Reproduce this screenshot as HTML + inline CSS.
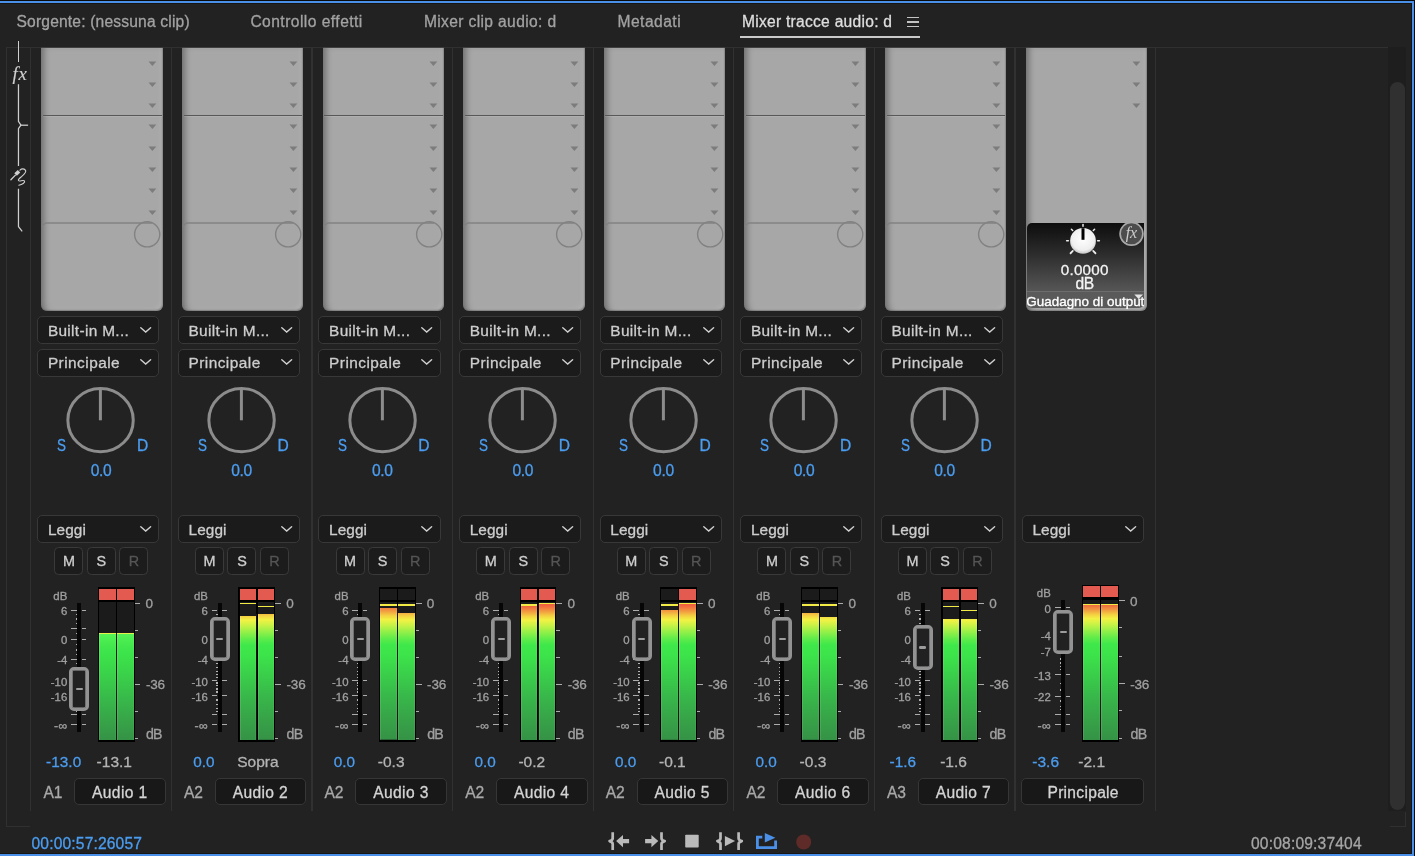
<!DOCTYPE html>
<html lang="it"><head><meta charset="utf-8"><title>Mixer tracce audio</title>
<style>
html,body{margin:0;padding:0;}
body{width:1415px;height:856px;overflow:hidden;background:#222222;position:relative;font-family:"Liberation Sans", sans-serif;}
div,span,svg{position:absolute;display:block;box-sizing:border-box;}
span{white-space:pre;}

.g{background:linear-gradient(to bottom,#f05a3c 0%,#f0663e 3.2%,#f2a240 7.5%,#f4d242 10.5%,#f2f244 13.3%,#c6f246 17.5%,#98f048 21.5%,#5eec4a 27%,#3ee84a 31.5%,#3ce24a 40%,#3ad04a 52%,#38b84a 68%,#37a448 84%,#359246 100%) no-repeat;box-shadow:inset 1px 0 0 rgba(255,255,255,.10),inset -1px 0 0 rgba(255,255,255,.05);}
.gl{background:linear-gradient(to bottom,#58f458 0%,#4cee50 6%,#40e64c 14%,#3ce24a 22%,#3ad04a 40%,#38b84a 62%,#37a448 82%,#359246 100%) no-repeat;box-shadow:inset 1px 0 0 rgba(255,255,255,.10),inset -1px 0 0 rgba(255,255,255,.05);}
.pn{background:#a7a7a7;border-radius:0 0 6px 6px;box-shadow:inset 6px 0 6px -3px rgba(0,0,0,.34),inset -4px -4px 4px -2px rgba(255,255,255,.13),inset -1px -1px 1.5px 0 rgba(0,0,0,.28),inset 0 1px 1px 0 rgba(255,255,255,.08);}
.dd{width:122.2px;height:28px;background:#1b1b1b;border:1px solid #383838;border-radius:5px;}
.cr{background:#e35a50;}
.cd{background:#1b1b1b;}
.tk{height:1px;background:#acacac;}
.dt{width:1.6px;height:1.5px;background:#b4b4b4;}
span{-webkit-text-stroke:0.3px currentColor;}
</style></head>
<body>
<div style="left:0.00px;top:0.00px;width:1415.00px;height:1.00px;background:#0b0b0b"></div>
<div style="left:0.00px;top:1.00px;width:1414.00px;height:2.00px;background:#4a90e8"></div>
<div style="left:0.00px;top:3.00px;width:1412.00px;height:1.00px;background:#151515"></div>
<div style="left:1411.00px;top:3.00px;width:1.00px;height:851.00px;background:#151515"></div>
<div style="left:1412.00px;top:1.00px;width:2.00px;height:855.00px;background:#4a90e8"></div>
<div style="left:1414.00px;top:0.00px;width:1.00px;height:856.00px;background:#0b0b0b"></div>
<div style="left:0.00px;top:853.00px;width:1412.00px;height:1.00px;background:#171717"></div>
<div style="left:0.00px;top:854.00px;width:1414.00px;height:2.00px;background:#4a90e8"></div>
<span style="left:16.50px;top:14.02px;font-size:15.6px;line-height:15.6px;color:#a2a2a2;letter-spacing:0.178px;">Sorgente: (nessuna clip)</span>
<span style="left:250.40px;top:14.02px;font-size:15.6px;line-height:15.6px;color:#a2a2a2;letter-spacing:0.458px;">Controllo effetti</span>
<span style="left:423.90px;top:14.02px;font-size:15.6px;line-height:15.6px;color:#a2a2a2;letter-spacing:0.365px;">Mixer clip audio: d</span>
<span style="left:617.50px;top:14.02px;font-size:15.6px;line-height:15.6px;color:#a2a2a2;letter-spacing:0.473px;">Metadati</span>
<span style="left:741.90px;top:14.02px;font-size:15.6px;line-height:15.6px;color:#dedede;letter-spacing:0.269px;">Mixer tracce audio: d</span>
<div style="left:740.00px;top:36.00px;width:180.00px;height:2.00px;background:#c9c9c9"></div>
<div style="left:907.30px;top:16.65px;width:12.20px;height:1.50px;background:#c4c4c4"></div>
<div style="left:907.30px;top:21.25px;width:12.20px;height:1.50px;background:#c4c4c4"></div>
<div style="left:907.30px;top:25.85px;width:12.20px;height:1.50px;background:#c4c4c4"></div>
<div style="left:6.00px;top:47.00px;width:1382.00px;height:1.00px;background:#303030"></div>
<div style="left:6.00px;top:47.00px;width:1.00px;height:780.00px;background:#303030"></div>
<div style="left:6.00px;top:826.00px;width:24.00px;height:1.00px;background:#303030"></div>
<div style="left:1388.00px;top:47.00px;width:18.00px;height:764.00px;background:#1e1e1e"></div>
<div style="left:1390.20px;top:82.30px;width:15.00px;height:727.50px;background:#303030;border-radius:7.5px"></div>
<div style="left:1405.00px;top:812.00px;width:1.00px;height:15.00px;background:#303030"></div>
<div style="left:1390.00px;top:826.00px;width:16.00px;height:1.00px;background:#303030"></div>
<div style="left:17.85px;top:40.90px;width:1.25px;height:21.20px;background:#cfcfcf"></div>
<span style="left:12.40px;top:65.02px;font-size:18.8px;line-height:18.8px;color:#cfcfcf;font-family:'Liberation Serif',serif;font-style:italic;-webkit-text-stroke:0.15px;letter-spacing:1px;">fx</span>
<svg style="left:8.00px;top:84.00px;" width="24" height="150" viewBox="0 0 24 150"><g stroke="#cfcfcf" stroke-width="1.25" fill="none" stroke-linejoin="round"><path d="M10.47 0.2 V37.4 L12.9 41.2 L10.47 44.6 V82.1"/><path d="M12.6 41.2 H20.1"/><path d="M10.47 104.8 V142.6 L14.2 147.4"/></g><g stroke="#cfcfcf" fill="none" stroke-linecap="round"><path d="M2.9 95.7 L7.4 91.1" stroke-width="1.3"/><path d="M7.6 90.6 L11 87.2" stroke-width="3.6" stroke-linecap="butt"/><path d="M12 86.2 C13.6 84.4 16.6 84.5 17.6 86.6 C18.5 88.6 16 90.6 13.6 92.6 C11.6 94.2 9.6 95.6 10.6 96.7 C11.7 97.8 15.4 95.3 16.5 97.0 C17.5 98.6 14 100.4 10.8 101.2" stroke-width="1.15"/></g></svg>
<div style="left:30.15px;top:48.00px;width:1.20px;height:763.00px;background:#313131"></div>
<div style="left:170.75px;top:48.00px;width:1.20px;height:763.00px;background:#313131"></div>
<div style="left:311.35px;top:48.00px;width:1.20px;height:763.00px;background:#313131"></div>
<div style="left:451.95px;top:48.00px;width:1.20px;height:763.00px;background:#313131"></div>
<div style="left:592.55px;top:48.00px;width:1.20px;height:763.00px;background:#313131"></div>
<div style="left:733.15px;top:48.00px;width:1.20px;height:763.00px;background:#313131"></div>
<div style="left:873.75px;top:48.00px;width:1.20px;height:763.00px;background:#313131"></div>
<div style="left:1014.35px;top:48.00px;width:1.20px;height:763.00px;background:#313131"></div>
<div style="left:1154.95px;top:48.00px;width:1.20px;height:763.00px;background:#313131"></div>
<div style="left:41.30px;top:47.00px;width:121.50px;height:1.00px;background:#404040"></div>
<div class="pn" style="left:41.30px;top:48px;width:121.50px;height:263px"></div>
<svg style="left:148.00px;top:60.50px;" width="9" height="6" viewBox="0 0 9 6"><path d="M0.5 0.6 H8.3 L4.4 5.0 Z" fill="#7c7c7c"/></svg>
<svg style="left:148.00px;top:81.80px;" width="9" height="6" viewBox="0 0 9 6"><path d="M0.5 0.6 H8.3 L4.4 5.0 Z" fill="#7c7c7c"/></svg>
<svg style="left:148.00px;top:103.10px;" width="9" height="6" viewBox="0 0 9 6"><path d="M0.5 0.6 H8.3 L4.4 5.0 Z" fill="#7c7c7c"/></svg>
<svg style="left:148.00px;top:124.40px;" width="9" height="6" viewBox="0 0 9 6"><path d="M0.5 0.6 H8.3 L4.4 5.0 Z" fill="#7c7c7c"/></svg>
<svg style="left:148.00px;top:145.70px;" width="9" height="6" viewBox="0 0 9 6"><path d="M0.5 0.6 H8.3 L4.4 5.0 Z" fill="#7c7c7c"/></svg>
<svg style="left:148.00px;top:167.00px;" width="9" height="6" viewBox="0 0 9 6"><path d="M0.5 0.6 H8.3 L4.4 5.0 Z" fill="#7c7c7c"/></svg>
<svg style="left:148.00px;top:188.30px;" width="9" height="6" viewBox="0 0 9 6"><path d="M0.5 0.6 H8.3 L4.4 5.0 Z" fill="#7c7c7c"/></svg>
<svg style="left:148.00px;top:209.70px;" width="9" height="6" viewBox="0 0 9 6"><path d="M0.5 0.6 H8.3 L4.4 5.0 Z" fill="#7c7c7c"/></svg>
<div style="left:42.90px;top:115.00px;width:118.90px;height:1.30px;background:#585858;box-shadow:0 1px 0 rgba(255,255,255,.10)"></div>
<svg style="left:41.30px;top:219.00px;" width="121.5" height="32" viewBox="0 0 121.5 32"><path d="M0.4 7.4 L4.6 4.0 H111" stroke="#828282" stroke-width="1.3" fill="none"/><circle cx="106.2" cy="15.3" r="12.6" stroke="#828282" stroke-width="1.4" fill="none"/></svg>
<div class="dd" style="left:37.20px;top:316.00px"></div>
<span style="left:47.90px;top:323.02px;font-size:15.4px;line-height:15.4px;color:#cdcdcd;letter-spacing:0.325px;">Built-in M...</span>
<svg style="left:140.10px;top:326.60px;" width="12" height="7" viewBox="0 0 12 7"><path d="M0.8 0.8 L5.7 5.0 L10.6 0.8" stroke="#d0d0d0" stroke-width="1.4" fill="none" stroke-linecap="round" stroke-linejoin="miter"/></svg>
<div class="dd" style="left:37.20px;top:348.80px"></div>
<span style="left:47.90px;top:355.02px;font-size:15.4px;line-height:15.4px;color:#cdcdcd;letter-spacing:0.461px;">Principale</span>
<svg style="left:140.10px;top:359.40px;" width="12" height="7" viewBox="0 0 12 7"><path d="M0.8 0.8 L5.7 5.0 L10.6 0.8" stroke="#d0d0d0" stroke-width="1.4" fill="none" stroke-linecap="round" stroke-linejoin="miter"/></svg>
<svg style="left:64.40px;top:384.00px;" width="74" height="74" viewBox="0 0 74 74"><ellipse cx="36.55" cy="36.2" rx="32.7" ry="31.6" stroke="#8c8c8c" stroke-width="3" fill="none"/><path d="M36.4 4.5 V36.3" stroke="#8c8c8c" stroke-width="3"/></svg>
<span style="left:57.00px;top:438.02px;font-size:15.6px;line-height:15.6px;color:#4b9df0;transform:scaleX(0.86);transform-origin:0 50%;">S</span>
<span style="left:137.00px;top:438.02px;font-size:15.6px;line-height:15.6px;color:#4b9df0;">D</span>
<span style="left:90.72px;top:463.02px;font-size:15.6px;line-height:15.6px;color:#4b9df0;letter-spacing:-0.362px;">0.0</span>
<div class="dd" style="left:37.20px;top:515.00px"></div>
<span style="left:47.90px;top:522.02px;font-size:15.4px;line-height:15.4px;color:#cdcdcd;letter-spacing:0.066px;">Leggi</span>
<svg style="left:140.10px;top:525.60px;" width="12" height="7" viewBox="0 0 12 7"><path d="M0.8 0.8 L5.7 5.0 L10.6 0.8" stroke="#d0d0d0" stroke-width="1.4" fill="none" stroke-linecap="round" stroke-linejoin="miter"/></svg>
<div style="left:54.30px;top:547.10px;width:29.10px;height:27.50px;background:#1c1c1c;border:1.2px solid #3a3a3a;border-radius:4.5px"></div>
<span style="left:62.90px;top:554.02px;font-size:14.4px;line-height:14.4px;color:#cfcfcf;">M</span>
<div style="left:86.80px;top:547.10px;width:29.10px;height:27.50px;background:#1c1c1c;border:1.2px solid #3a3a3a;border-radius:4.5px"></div>
<span style="left:96.60px;top:554.02px;font-size:14.4px;line-height:14.4px;color:#cfcfcf;">S</span>
<div style="left:119.30px;top:547.10px;width:29.10px;height:27.50px;background:#1c1c1c;border:1.2px solid #3a3a3a;border-radius:4.5px"></div>
<span style="left:128.70px;top:554.02px;font-size:14.4px;line-height:14.4px;color:#555555;">R</span>
<div style="left:77.20px;top:602.80px;width:4.00px;height:129.10px;background:#060606"></div>
<div class="tk" style="left:70.90px;top:610px;width:5.9px"></div>
<div class="tk" style="left:81.70px;top:610px;width:4.6px"></div>
<div class="tk" style="left:70.90px;top:628px;width:5.9px"></div>
<div class="tk" style="left:81.70px;top:628px;width:4.6px"></div>
<div class="tk" style="left:70.90px;top:639px;width:5.9px"></div>
<div class="tk" style="left:81.70px;top:639px;width:4.6px"></div>
<div class="tk" style="left:70.90px;top:659px;width:5.9px"></div>
<div class="tk" style="left:81.70px;top:659px;width:4.6px"></div>
<div class="tk" style="left:70.90px;top:680px;width:5.9px"></div>
<div class="tk" style="left:81.70px;top:680px;width:4.6px"></div>
<div class="tk" style="left:70.90px;top:695px;width:5.9px"></div>
<div class="tk" style="left:81.70px;top:695px;width:4.6px"></div>
<div class="tk" style="left:70.90px;top:714px;width:5.9px"></div>
<div class="tk" style="left:81.70px;top:714px;width:4.6px"></div>
<div class="tk" style="left:70.90px;top:724px;width:5.9px"></div>
<div class="tk" style="left:81.70px;top:724px;width:4.6px"></div>
<div class="dt" style="left:75.70px;top:613.75px"></div>
<div class="dt" style="left:75.70px;top:618.45px"></div>
<div class="dt" style="left:75.70px;top:622.75px"></div>
<div class="dt" style="left:75.70px;top:632.75px"></div>
<div class="dt" style="left:75.70px;top:643.95px"></div>
<div class="dt" style="left:75.70px;top:649.45px"></div>
<div class="dt" style="left:75.70px;top:653.95px"></div>
<div class="dt" style="left:75.70px;top:662.55px"></div>
<div class="dt" style="left:75.70px;top:666.75px"></div>
<div class="dt" style="left:75.70px;top:670.95px"></div>
<div class="dt" style="left:75.70px;top:673.75px"></div>
<div class="dt" style="left:75.70px;top:676.55px"></div>
<div class="dt" style="left:75.70px;top:682.15px"></div>
<div class="dt" style="left:75.70px;top:684.95px"></div>
<div class="dt" style="left:75.70px;top:688.25px"></div>
<div class="dt" style="left:75.70px;top:691.45px"></div>
<div class="dt" style="left:75.70px;top:699.45px"></div>
<div class="dt" style="left:75.70px;top:703.95px"></div>
<div class="dt" style="left:75.70px;top:707.85px"></div>
<div class="dt" style="left:75.70px;top:710.65px"></div>
<span style="left:53.36px;top:591.02px;font-size:11.4px;line-height:11.4px;color:#a0a0a0;">dB</span>
<span style="left:60.96px;top:606.02px;font-size:11.4px;line-height:11.4px;color:#a0a0a0;">6</span>
<span style="left:60.96px;top:635.02px;font-size:11.4px;line-height:11.4px;color:#a0a0a0;">0</span>
<span style="left:57.16px;top:655.02px;font-size:11.4px;line-height:11.4px;color:#a0a0a0;">-4</span>
<span style="left:50.83px;top:677.02px;font-size:11.4px;line-height:11.4px;color:#a0a0a0;">-10</span>
<span style="left:50.83px;top:692.02px;font-size:11.4px;line-height:11.4px;color:#a0a0a0;">-16</span>
<span style="left:53.92px;top:720.02px;font-size:12.4px;line-height:12.4px;color:#a0a0a0;letter-spacing:0.416px;">-∞</span>
<div style="left:69.10px;top:666.70px;width:20.00px;height:44.40px;background:#212121;border:3px solid #939393;border-radius:5px;box-shadow:inset 0 0 0 0.6px #a8a8a8"></div>
<div style="left:75.80px;top:687.60px;width:7.00px;height:2.60px;background:#9c9c9c;border-radius:1.3px"></div>
<div style="left:97.80px;top:587.20px;width:36.80px;height:154.40px;background:#000"></div>
<div class="cr" style="left:99.00px;top:588.80px;width:16.60px;height:11.40px"></div>
<div class="cr" style="left:117.00px;top:588.80px;width:16.60px;height:11.40px"></div>
<div style="left:115.70px;top:632.90px;width:1.20px;height:107.10px;background:#151515"></div>
<div class="cd" style="left:99.00px;top:601.50px;width:16.60px;height:138.50px"></div>
<div class="gl" style="left:99.00px;top:632.90px;width:16.60px;height:107.10px"></div>
<div style="left:99.00px;top:632.70px;width:16.60px;height:1.10px;background:#e6f24a"></div>
<div class="cd" style="left:117.00px;top:601.50px;width:16.60px;height:138.50px"></div>
<div class="gl" style="left:117.00px;top:632.90px;width:16.60px;height:107.10px"></div>
<div style="left:117.00px;top:632.70px;width:16.60px;height:1.10px;background:#e6f24a"></div>
<div class="tk" style="left:134.60px;top:603px;width:5.8px"></div>
<div class="tk" style="left:134.60px;top:684px;width:5.8px"></div>
<div class="tk" style="left:134.60px;top:630px;width:3.2px"></div>
<div class="tk" style="left:134.60px;top:657px;width:3.2px"></div>
<div class="tk" style="left:134.60px;top:711px;width:3.2px"></div>
<div class="tk" style="left:134.60px;top:738px;width:3.2px"></div>
<span style="left:145.60px;top:597.02px;font-size:13.5px;line-height:13.5px;color:#a0a0a0;">0</span>
<span style="left:145.90px;top:678.02px;font-size:13.5px;line-height:13.5px;color:#a0a0a0;letter-spacing:-0.172px;">-36</span>
<span style="left:146.00px;top:727.02px;font-size:14.2px;line-height:14.2px;color:#a0a0a0;letter-spacing:-0.780px;">dB</span>
<span style="left:46.00px;top:754.02px;font-size:15.3px;line-height:15.3px;color:#4b9df0;letter-spacing:0.085px;">-13.0</span>
<span style="left:96.60px;top:754.02px;font-size:15.5px;line-height:15.5px;color:#b4b4b4;">-13.1</span>
<span style="left:43.40px;top:785.02px;font-size:15.6px;line-height:15.6px;color:#a8a8a8;letter-spacing:-0.139px;">A1</span>
<div style="left:74.10px;top:778.40px;width:91.70px;height:26.60px;background:#181818;border:1px solid #363636;border-radius:5px"></div>
<span style="left:92.08px;top:785.02px;font-size:15.6px;line-height:15.6px;color:#d4d4d4;letter-spacing:0.358px;">Audio 1</span>
<div style="left:181.90px;top:47.00px;width:121.50px;height:1.00px;background:#404040"></div>
<div class="pn" style="left:181.90px;top:48px;width:121.50px;height:263px"></div>
<svg style="left:288.60px;top:60.50px;" width="9" height="6" viewBox="0 0 9 6"><path d="M0.5 0.6 H8.3 L4.4 5.0 Z" fill="#7c7c7c"/></svg>
<svg style="left:288.60px;top:81.80px;" width="9" height="6" viewBox="0 0 9 6"><path d="M0.5 0.6 H8.3 L4.4 5.0 Z" fill="#7c7c7c"/></svg>
<svg style="left:288.60px;top:103.10px;" width="9" height="6" viewBox="0 0 9 6"><path d="M0.5 0.6 H8.3 L4.4 5.0 Z" fill="#7c7c7c"/></svg>
<svg style="left:288.60px;top:124.40px;" width="9" height="6" viewBox="0 0 9 6"><path d="M0.5 0.6 H8.3 L4.4 5.0 Z" fill="#7c7c7c"/></svg>
<svg style="left:288.60px;top:145.70px;" width="9" height="6" viewBox="0 0 9 6"><path d="M0.5 0.6 H8.3 L4.4 5.0 Z" fill="#7c7c7c"/></svg>
<svg style="left:288.60px;top:167.00px;" width="9" height="6" viewBox="0 0 9 6"><path d="M0.5 0.6 H8.3 L4.4 5.0 Z" fill="#7c7c7c"/></svg>
<svg style="left:288.60px;top:188.30px;" width="9" height="6" viewBox="0 0 9 6"><path d="M0.5 0.6 H8.3 L4.4 5.0 Z" fill="#7c7c7c"/></svg>
<svg style="left:288.60px;top:209.70px;" width="9" height="6" viewBox="0 0 9 6"><path d="M0.5 0.6 H8.3 L4.4 5.0 Z" fill="#7c7c7c"/></svg>
<div style="left:183.50px;top:115.00px;width:118.90px;height:1.30px;background:#585858;box-shadow:0 1px 0 rgba(255,255,255,.10)"></div>
<svg style="left:181.90px;top:219.00px;" width="121.5" height="32" viewBox="0 0 121.5 32"><path d="M0.4 7.4 L4.6 4.0 H111" stroke="#828282" stroke-width="1.3" fill="none"/><circle cx="106.2" cy="15.3" r="12.6" stroke="#828282" stroke-width="1.4" fill="none"/></svg>
<div class="dd" style="left:177.80px;top:316.00px"></div>
<span style="left:188.50px;top:323.02px;font-size:15.4px;line-height:15.4px;color:#cdcdcd;letter-spacing:0.325px;">Built-in M...</span>
<svg style="left:280.70px;top:326.60px;" width="12" height="7" viewBox="0 0 12 7"><path d="M0.8 0.8 L5.7 5.0 L10.6 0.8" stroke="#d0d0d0" stroke-width="1.4" fill="none" stroke-linecap="round" stroke-linejoin="miter"/></svg>
<div class="dd" style="left:177.80px;top:348.80px"></div>
<span style="left:188.50px;top:355.02px;font-size:15.4px;line-height:15.4px;color:#cdcdcd;letter-spacing:0.461px;">Principale</span>
<svg style="left:280.70px;top:359.40px;" width="12" height="7" viewBox="0 0 12 7"><path d="M0.8 0.8 L5.7 5.0 L10.6 0.8" stroke="#d0d0d0" stroke-width="1.4" fill="none" stroke-linecap="round" stroke-linejoin="miter"/></svg>
<svg style="left:205.00px;top:384.00px;" width="74" height="74" viewBox="0 0 74 74"><ellipse cx="36.55" cy="36.2" rx="32.7" ry="31.6" stroke="#8c8c8c" stroke-width="3" fill="none"/><path d="M36.4 4.5 V36.3" stroke="#8c8c8c" stroke-width="3"/></svg>
<span style="left:197.60px;top:438.02px;font-size:15.6px;line-height:15.6px;color:#4b9df0;transform:scaleX(0.86);transform-origin:0 50%;">S</span>
<span style="left:277.60px;top:438.02px;font-size:15.6px;line-height:15.6px;color:#4b9df0;">D</span>
<span style="left:231.32px;top:463.02px;font-size:15.6px;line-height:15.6px;color:#4b9df0;letter-spacing:-0.362px;">0.0</span>
<div class="dd" style="left:177.80px;top:515.00px"></div>
<span style="left:188.50px;top:522.02px;font-size:15.4px;line-height:15.4px;color:#cdcdcd;letter-spacing:0.066px;">Leggi</span>
<svg style="left:280.70px;top:525.60px;" width="12" height="7" viewBox="0 0 12 7"><path d="M0.8 0.8 L5.7 5.0 L10.6 0.8" stroke="#d0d0d0" stroke-width="1.4" fill="none" stroke-linecap="round" stroke-linejoin="miter"/></svg>
<div style="left:194.90px;top:547.10px;width:29.10px;height:27.50px;background:#1c1c1c;border:1.2px solid #3a3a3a;border-radius:4.5px"></div>
<span style="left:203.50px;top:554.02px;font-size:14.4px;line-height:14.4px;color:#cfcfcf;">M</span>
<div style="left:227.40px;top:547.10px;width:29.10px;height:27.50px;background:#1c1c1c;border:1.2px solid #3a3a3a;border-radius:4.5px"></div>
<span style="left:237.20px;top:554.02px;font-size:14.4px;line-height:14.4px;color:#cfcfcf;">S</span>
<div style="left:259.90px;top:547.10px;width:29.10px;height:27.50px;background:#1c1c1c;border:1.2px solid #3a3a3a;border-radius:4.5px"></div>
<span style="left:269.30px;top:554.02px;font-size:14.4px;line-height:14.4px;color:#555555;">R</span>
<div style="left:217.80px;top:602.80px;width:4.00px;height:129.10px;background:#060606"></div>
<div class="tk" style="left:211.50px;top:610px;width:5.9px"></div>
<div class="tk" style="left:222.30px;top:610px;width:4.6px"></div>
<div class="tk" style="left:211.50px;top:628px;width:5.9px"></div>
<div class="tk" style="left:222.30px;top:628px;width:4.6px"></div>
<div class="tk" style="left:211.50px;top:639px;width:5.9px"></div>
<div class="tk" style="left:222.30px;top:639px;width:4.6px"></div>
<div class="tk" style="left:211.50px;top:659px;width:5.9px"></div>
<div class="tk" style="left:222.30px;top:659px;width:4.6px"></div>
<div class="tk" style="left:211.50px;top:680px;width:5.9px"></div>
<div class="tk" style="left:222.30px;top:680px;width:4.6px"></div>
<div class="tk" style="left:211.50px;top:695px;width:5.9px"></div>
<div class="tk" style="left:222.30px;top:695px;width:4.6px"></div>
<div class="tk" style="left:211.50px;top:714px;width:5.9px"></div>
<div class="tk" style="left:222.30px;top:714px;width:4.6px"></div>
<div class="tk" style="left:211.50px;top:724px;width:5.9px"></div>
<div class="tk" style="left:222.30px;top:724px;width:4.6px"></div>
<div class="dt" style="left:216.30px;top:613.75px"></div>
<div class="dt" style="left:216.30px;top:618.45px"></div>
<div class="dt" style="left:216.30px;top:622.75px"></div>
<div class="dt" style="left:216.30px;top:632.75px"></div>
<div class="dt" style="left:216.30px;top:643.95px"></div>
<div class="dt" style="left:216.30px;top:649.45px"></div>
<div class="dt" style="left:216.30px;top:653.95px"></div>
<div class="dt" style="left:216.30px;top:662.55px"></div>
<div class="dt" style="left:216.30px;top:666.75px"></div>
<div class="dt" style="left:216.30px;top:670.95px"></div>
<div class="dt" style="left:216.30px;top:673.75px"></div>
<div class="dt" style="left:216.30px;top:676.55px"></div>
<div class="dt" style="left:216.30px;top:682.15px"></div>
<div class="dt" style="left:216.30px;top:684.95px"></div>
<div class="dt" style="left:216.30px;top:688.25px"></div>
<div class="dt" style="left:216.30px;top:691.45px"></div>
<div class="dt" style="left:216.30px;top:699.45px"></div>
<div class="dt" style="left:216.30px;top:703.95px"></div>
<div class="dt" style="left:216.30px;top:707.85px"></div>
<div class="dt" style="left:216.30px;top:710.65px"></div>
<span style="left:193.96px;top:591.02px;font-size:11.4px;line-height:11.4px;color:#a0a0a0;">dB</span>
<span style="left:201.56px;top:606.02px;font-size:11.4px;line-height:11.4px;color:#a0a0a0;">6</span>
<span style="left:201.56px;top:635.02px;font-size:11.4px;line-height:11.4px;color:#a0a0a0;">0</span>
<span style="left:197.76px;top:655.02px;font-size:11.4px;line-height:11.4px;color:#a0a0a0;">-4</span>
<span style="left:191.43px;top:677.02px;font-size:11.4px;line-height:11.4px;color:#a0a0a0;">-10</span>
<span style="left:191.43px;top:692.02px;font-size:11.4px;line-height:11.4px;color:#a0a0a0;">-16</span>
<span style="left:194.52px;top:720.02px;font-size:12.4px;line-height:12.4px;color:#a0a0a0;letter-spacing:0.416px;">-∞</span>
<div style="left:209.70px;top:616.70px;width:20.00px;height:44.40px;background:#212121;border:3px solid #939393;border-radius:5px;box-shadow:inset 0 0 0 0.6px #a8a8a8"></div>
<div style="left:216.40px;top:637.60px;width:7.00px;height:2.60px;background:#9c9c9c;border-radius:1.3px"></div>
<div style="left:238.40px;top:587.20px;width:36.80px;height:154.40px;background:#000"></div>
<div class="cr" style="left:239.60px;top:588.80px;width:16.60px;height:11.40px"></div>
<div class="cr" style="left:257.60px;top:588.80px;width:16.60px;height:11.40px"></div>
<div style="left:256.30px;top:614.20px;width:1.20px;height:125.80px;background:#151515"></div>
<div class="cd" style="left:239.60px;top:601.50px;width:16.60px;height:138.50px"></div>
<div class="g" style="left:239.60px;top:615.70px;width:16.60px;height:124.30px;background-size:100% 138.50px;background-position:0 -14.20px"></div>
<div style="left:239.60px;top:603.05px;width:16.60px;height:1.30px;background:#f2ea45"></div>
<div class="cd" style="left:257.60px;top:601.50px;width:16.60px;height:138.50px"></div>
<div class="g" style="left:257.60px;top:614.20px;width:16.60px;height:125.80px;background-size:100% 138.50px;background-position:0 -12.70px"></div>
<div style="left:257.60px;top:605.65px;width:16.60px;height:1.30px;background:#f2ea45"></div>
<div class="tk" style="left:275.20px;top:603px;width:5.8px"></div>
<div class="tk" style="left:275.20px;top:684px;width:5.8px"></div>
<div class="tk" style="left:275.20px;top:630px;width:3.2px"></div>
<div class="tk" style="left:275.20px;top:657px;width:3.2px"></div>
<div class="tk" style="left:275.20px;top:711px;width:3.2px"></div>
<div class="tk" style="left:275.20px;top:738px;width:3.2px"></div>
<span style="left:286.20px;top:597.02px;font-size:13.5px;line-height:13.5px;color:#a0a0a0;">0</span>
<span style="left:286.50px;top:678.02px;font-size:13.5px;line-height:13.5px;color:#a0a0a0;letter-spacing:-0.172px;">-36</span>
<span style="left:286.60px;top:727.02px;font-size:14.2px;line-height:14.2px;color:#a0a0a0;letter-spacing:-0.780px;">dB</span>
<span style="left:193.20px;top:754.02px;font-size:15.3px;line-height:15.3px;color:#4b9df0;">0.0</span>
<span style="left:237.20px;top:754.02px;font-size:15.5px;line-height:15.5px;color:#b4b4b4;">Sopra</span>
<span style="left:184.00px;top:785.02px;font-size:15.6px;line-height:15.6px;color:#a8a8a8;letter-spacing:-0.139px;">A2</span>
<div style="left:214.70px;top:778.40px;width:91.70px;height:26.60px;background:#181818;border:1px solid #363636;border-radius:5px"></div>
<span style="left:232.68px;top:785.02px;font-size:15.6px;line-height:15.6px;color:#d4d4d4;letter-spacing:0.358px;">Audio 2</span>
<div style="left:322.50px;top:47.00px;width:121.50px;height:1.00px;background:#404040"></div>
<div class="pn" style="left:322.50px;top:48px;width:121.50px;height:263px"></div>
<svg style="left:429.20px;top:60.50px;" width="9" height="6" viewBox="0 0 9 6"><path d="M0.5 0.6 H8.3 L4.4 5.0 Z" fill="#7c7c7c"/></svg>
<svg style="left:429.20px;top:81.80px;" width="9" height="6" viewBox="0 0 9 6"><path d="M0.5 0.6 H8.3 L4.4 5.0 Z" fill="#7c7c7c"/></svg>
<svg style="left:429.20px;top:103.10px;" width="9" height="6" viewBox="0 0 9 6"><path d="M0.5 0.6 H8.3 L4.4 5.0 Z" fill="#7c7c7c"/></svg>
<svg style="left:429.20px;top:124.40px;" width="9" height="6" viewBox="0 0 9 6"><path d="M0.5 0.6 H8.3 L4.4 5.0 Z" fill="#7c7c7c"/></svg>
<svg style="left:429.20px;top:145.70px;" width="9" height="6" viewBox="0 0 9 6"><path d="M0.5 0.6 H8.3 L4.4 5.0 Z" fill="#7c7c7c"/></svg>
<svg style="left:429.20px;top:167.00px;" width="9" height="6" viewBox="0 0 9 6"><path d="M0.5 0.6 H8.3 L4.4 5.0 Z" fill="#7c7c7c"/></svg>
<svg style="left:429.20px;top:188.30px;" width="9" height="6" viewBox="0 0 9 6"><path d="M0.5 0.6 H8.3 L4.4 5.0 Z" fill="#7c7c7c"/></svg>
<svg style="left:429.20px;top:209.70px;" width="9" height="6" viewBox="0 0 9 6"><path d="M0.5 0.6 H8.3 L4.4 5.0 Z" fill="#7c7c7c"/></svg>
<div style="left:324.10px;top:115.00px;width:118.90px;height:1.30px;background:#585858;box-shadow:0 1px 0 rgba(255,255,255,.10)"></div>
<svg style="left:322.50px;top:219.00px;" width="121.5" height="32" viewBox="0 0 121.5 32"><path d="M0.4 7.4 L4.6 4.0 H111" stroke="#828282" stroke-width="1.3" fill="none"/><circle cx="106.2" cy="15.3" r="12.6" stroke="#828282" stroke-width="1.4" fill="none"/></svg>
<div class="dd" style="left:318.40px;top:316.00px"></div>
<span style="left:329.10px;top:323.02px;font-size:15.4px;line-height:15.4px;color:#cdcdcd;letter-spacing:0.325px;">Built-in M...</span>
<svg style="left:421.30px;top:326.60px;" width="12" height="7" viewBox="0 0 12 7"><path d="M0.8 0.8 L5.7 5.0 L10.6 0.8" stroke="#d0d0d0" stroke-width="1.4" fill="none" stroke-linecap="round" stroke-linejoin="miter"/></svg>
<div class="dd" style="left:318.40px;top:348.80px"></div>
<span style="left:329.10px;top:355.02px;font-size:15.4px;line-height:15.4px;color:#cdcdcd;letter-spacing:0.461px;">Principale</span>
<svg style="left:421.30px;top:359.40px;" width="12" height="7" viewBox="0 0 12 7"><path d="M0.8 0.8 L5.7 5.0 L10.6 0.8" stroke="#d0d0d0" stroke-width="1.4" fill="none" stroke-linecap="round" stroke-linejoin="miter"/></svg>
<svg style="left:345.60px;top:384.00px;" width="74" height="74" viewBox="0 0 74 74"><ellipse cx="36.55" cy="36.2" rx="32.7" ry="31.6" stroke="#8c8c8c" stroke-width="3" fill="none"/><path d="M36.4 4.5 V36.3" stroke="#8c8c8c" stroke-width="3"/></svg>
<span style="left:338.20px;top:438.02px;font-size:15.6px;line-height:15.6px;color:#4b9df0;transform:scaleX(0.86);transform-origin:0 50%;">S</span>
<span style="left:418.20px;top:438.02px;font-size:15.6px;line-height:15.6px;color:#4b9df0;">D</span>
<span style="left:371.92px;top:463.02px;font-size:15.6px;line-height:15.6px;color:#4b9df0;letter-spacing:-0.362px;">0.0</span>
<div class="dd" style="left:318.40px;top:515.00px"></div>
<span style="left:329.10px;top:522.02px;font-size:15.4px;line-height:15.4px;color:#cdcdcd;letter-spacing:0.066px;">Leggi</span>
<svg style="left:421.30px;top:525.60px;" width="12" height="7" viewBox="0 0 12 7"><path d="M0.8 0.8 L5.7 5.0 L10.6 0.8" stroke="#d0d0d0" stroke-width="1.4" fill="none" stroke-linecap="round" stroke-linejoin="miter"/></svg>
<div style="left:335.50px;top:547.10px;width:29.10px;height:27.50px;background:#1c1c1c;border:1.2px solid #3a3a3a;border-radius:4.5px"></div>
<span style="left:344.10px;top:554.02px;font-size:14.4px;line-height:14.4px;color:#cfcfcf;">M</span>
<div style="left:368.00px;top:547.10px;width:29.10px;height:27.50px;background:#1c1c1c;border:1.2px solid #3a3a3a;border-radius:4.5px"></div>
<span style="left:377.80px;top:554.02px;font-size:14.4px;line-height:14.4px;color:#cfcfcf;">S</span>
<div style="left:400.50px;top:547.10px;width:29.10px;height:27.50px;background:#1c1c1c;border:1.2px solid #3a3a3a;border-radius:4.5px"></div>
<span style="left:409.90px;top:554.02px;font-size:14.4px;line-height:14.4px;color:#555555;">R</span>
<div style="left:358.40px;top:602.80px;width:4.00px;height:129.10px;background:#060606"></div>
<div class="tk" style="left:352.10px;top:610px;width:5.9px"></div>
<div class="tk" style="left:362.90px;top:610px;width:4.6px"></div>
<div class="tk" style="left:352.10px;top:628px;width:5.9px"></div>
<div class="tk" style="left:362.90px;top:628px;width:4.6px"></div>
<div class="tk" style="left:352.10px;top:639px;width:5.9px"></div>
<div class="tk" style="left:362.90px;top:639px;width:4.6px"></div>
<div class="tk" style="left:352.10px;top:659px;width:5.9px"></div>
<div class="tk" style="left:362.90px;top:659px;width:4.6px"></div>
<div class="tk" style="left:352.10px;top:680px;width:5.9px"></div>
<div class="tk" style="left:362.90px;top:680px;width:4.6px"></div>
<div class="tk" style="left:352.10px;top:695px;width:5.9px"></div>
<div class="tk" style="left:362.90px;top:695px;width:4.6px"></div>
<div class="tk" style="left:352.10px;top:714px;width:5.9px"></div>
<div class="tk" style="left:362.90px;top:714px;width:4.6px"></div>
<div class="tk" style="left:352.10px;top:724px;width:5.9px"></div>
<div class="tk" style="left:362.90px;top:724px;width:4.6px"></div>
<div class="dt" style="left:356.90px;top:613.75px"></div>
<div class="dt" style="left:356.90px;top:618.45px"></div>
<div class="dt" style="left:356.90px;top:622.75px"></div>
<div class="dt" style="left:356.90px;top:632.75px"></div>
<div class="dt" style="left:356.90px;top:643.95px"></div>
<div class="dt" style="left:356.90px;top:649.45px"></div>
<div class="dt" style="left:356.90px;top:653.95px"></div>
<div class="dt" style="left:356.90px;top:662.55px"></div>
<div class="dt" style="left:356.90px;top:666.75px"></div>
<div class="dt" style="left:356.90px;top:670.95px"></div>
<div class="dt" style="left:356.90px;top:673.75px"></div>
<div class="dt" style="left:356.90px;top:676.55px"></div>
<div class="dt" style="left:356.90px;top:682.15px"></div>
<div class="dt" style="left:356.90px;top:684.95px"></div>
<div class="dt" style="left:356.90px;top:688.25px"></div>
<div class="dt" style="left:356.90px;top:691.45px"></div>
<div class="dt" style="left:356.90px;top:699.45px"></div>
<div class="dt" style="left:356.90px;top:703.95px"></div>
<div class="dt" style="left:356.90px;top:707.85px"></div>
<div class="dt" style="left:356.90px;top:710.65px"></div>
<span style="left:334.56px;top:591.02px;font-size:11.4px;line-height:11.4px;color:#a0a0a0;">dB</span>
<span style="left:342.16px;top:606.02px;font-size:11.4px;line-height:11.4px;color:#a0a0a0;">6</span>
<span style="left:342.16px;top:635.02px;font-size:11.4px;line-height:11.4px;color:#a0a0a0;">0</span>
<span style="left:338.36px;top:655.02px;font-size:11.4px;line-height:11.4px;color:#a0a0a0;">-4</span>
<span style="left:332.03px;top:677.02px;font-size:11.4px;line-height:11.4px;color:#a0a0a0;">-10</span>
<span style="left:332.03px;top:692.02px;font-size:11.4px;line-height:11.4px;color:#a0a0a0;">-16</span>
<span style="left:335.12px;top:720.02px;font-size:12.4px;line-height:12.4px;color:#a0a0a0;letter-spacing:0.416px;">-∞</span>
<div style="left:350.30px;top:616.70px;width:20.00px;height:44.40px;background:#212121;border:3px solid #939393;border-radius:5px;box-shadow:inset 0 0 0 0.6px #a8a8a8"></div>
<div style="left:357.00px;top:637.60px;width:7.00px;height:2.60px;background:#9c9c9c;border-radius:1.3px"></div>
<div style="left:379.00px;top:587.20px;width:36.80px;height:154.40px;background:#000"></div>
<div class="cd" style="left:380.20px;top:588.80px;width:16.60px;height:11.40px"></div>
<div class="cd" style="left:398.20px;top:588.80px;width:16.60px;height:11.40px"></div>
<div style="left:396.90px;top:608.40px;width:1.20px;height:131.60px;background:#151515"></div>
<div class="cd" style="left:380.20px;top:601.50px;width:16.60px;height:138.50px"></div>
<div class="g" style="left:380.20px;top:608.40px;width:16.60px;height:131.60px;background-size:100% 138.50px;background-position:0 -6.90px"></div>
<div style="left:380.20px;top:604.20px;width:16.60px;height:1.80px;background:#f2ea45"></div>
<div class="cd" style="left:398.20px;top:601.50px;width:16.60px;height:138.50px"></div>
<div class="g" style="left:398.20px;top:613.00px;width:16.60px;height:127.00px;background-size:100% 138.50px;background-position:0 -11.50px"></div>
<div style="left:398.20px;top:604.20px;width:16.60px;height:1.80px;background:#f2ea45"></div>
<div class="tk" style="left:415.80px;top:603px;width:5.8px"></div>
<div class="tk" style="left:415.80px;top:684px;width:5.8px"></div>
<div class="tk" style="left:415.80px;top:630px;width:3.2px"></div>
<div class="tk" style="left:415.80px;top:657px;width:3.2px"></div>
<div class="tk" style="left:415.80px;top:711px;width:3.2px"></div>
<div class="tk" style="left:415.80px;top:738px;width:3.2px"></div>
<span style="left:426.80px;top:597.02px;font-size:13.5px;line-height:13.5px;color:#a0a0a0;">0</span>
<span style="left:427.10px;top:678.02px;font-size:13.5px;line-height:13.5px;color:#a0a0a0;letter-spacing:-0.172px;">-36</span>
<span style="left:427.20px;top:727.02px;font-size:14.2px;line-height:14.2px;color:#a0a0a0;letter-spacing:-0.780px;">dB</span>
<span style="left:333.80px;top:754.02px;font-size:15.3px;line-height:15.3px;color:#4b9df0;">0.0</span>
<span style="left:377.80px;top:754.02px;font-size:15.5px;line-height:15.5px;color:#b4b4b4;">-0.3</span>
<span style="left:324.60px;top:785.02px;font-size:15.6px;line-height:15.6px;color:#a8a8a8;letter-spacing:-0.139px;">A2</span>
<div style="left:355.30px;top:778.40px;width:91.70px;height:26.60px;background:#181818;border:1px solid #363636;border-radius:5px"></div>
<span style="left:373.28px;top:785.02px;font-size:15.6px;line-height:15.6px;color:#d4d4d4;letter-spacing:0.358px;">Audio 3</span>
<div style="left:463.10px;top:47.00px;width:121.50px;height:1.00px;background:#404040"></div>
<div class="pn" style="left:463.10px;top:48px;width:121.50px;height:263px"></div>
<svg style="left:569.80px;top:60.50px;" width="9" height="6" viewBox="0 0 9 6"><path d="M0.5 0.6 H8.3 L4.4 5.0 Z" fill="#7c7c7c"/></svg>
<svg style="left:569.80px;top:81.80px;" width="9" height="6" viewBox="0 0 9 6"><path d="M0.5 0.6 H8.3 L4.4 5.0 Z" fill="#7c7c7c"/></svg>
<svg style="left:569.80px;top:103.10px;" width="9" height="6" viewBox="0 0 9 6"><path d="M0.5 0.6 H8.3 L4.4 5.0 Z" fill="#7c7c7c"/></svg>
<svg style="left:569.80px;top:124.40px;" width="9" height="6" viewBox="0 0 9 6"><path d="M0.5 0.6 H8.3 L4.4 5.0 Z" fill="#7c7c7c"/></svg>
<svg style="left:569.80px;top:145.70px;" width="9" height="6" viewBox="0 0 9 6"><path d="M0.5 0.6 H8.3 L4.4 5.0 Z" fill="#7c7c7c"/></svg>
<svg style="left:569.80px;top:167.00px;" width="9" height="6" viewBox="0 0 9 6"><path d="M0.5 0.6 H8.3 L4.4 5.0 Z" fill="#7c7c7c"/></svg>
<svg style="left:569.80px;top:188.30px;" width="9" height="6" viewBox="0 0 9 6"><path d="M0.5 0.6 H8.3 L4.4 5.0 Z" fill="#7c7c7c"/></svg>
<svg style="left:569.80px;top:209.70px;" width="9" height="6" viewBox="0 0 9 6"><path d="M0.5 0.6 H8.3 L4.4 5.0 Z" fill="#7c7c7c"/></svg>
<div style="left:464.70px;top:115.00px;width:118.90px;height:1.30px;background:#585858;box-shadow:0 1px 0 rgba(255,255,255,.10)"></div>
<svg style="left:463.10px;top:219.00px;" width="121.5" height="32" viewBox="0 0 121.5 32"><path d="M0.4 7.4 L4.6 4.0 H111" stroke="#828282" stroke-width="1.3" fill="none"/><circle cx="106.2" cy="15.3" r="12.6" stroke="#828282" stroke-width="1.4" fill="none"/></svg>
<div class="dd" style="left:459.00px;top:316.00px"></div>
<span style="left:469.70px;top:323.02px;font-size:15.4px;line-height:15.4px;color:#cdcdcd;letter-spacing:0.325px;">Built-in M...</span>
<svg style="left:561.90px;top:326.60px;" width="12" height="7" viewBox="0 0 12 7"><path d="M0.8 0.8 L5.7 5.0 L10.6 0.8" stroke="#d0d0d0" stroke-width="1.4" fill="none" stroke-linecap="round" stroke-linejoin="miter"/></svg>
<div class="dd" style="left:459.00px;top:348.80px"></div>
<span style="left:469.70px;top:355.02px;font-size:15.4px;line-height:15.4px;color:#cdcdcd;letter-spacing:0.461px;">Principale</span>
<svg style="left:561.90px;top:359.40px;" width="12" height="7" viewBox="0 0 12 7"><path d="M0.8 0.8 L5.7 5.0 L10.6 0.8" stroke="#d0d0d0" stroke-width="1.4" fill="none" stroke-linecap="round" stroke-linejoin="miter"/></svg>
<svg style="left:486.20px;top:384.00px;" width="74" height="74" viewBox="0 0 74 74"><ellipse cx="36.55" cy="36.2" rx="32.7" ry="31.6" stroke="#8c8c8c" stroke-width="3" fill="none"/><path d="M36.4 4.5 V36.3" stroke="#8c8c8c" stroke-width="3"/></svg>
<span style="left:478.80px;top:438.02px;font-size:15.6px;line-height:15.6px;color:#4b9df0;transform:scaleX(0.86);transform-origin:0 50%;">S</span>
<span style="left:558.80px;top:438.02px;font-size:15.6px;line-height:15.6px;color:#4b9df0;">D</span>
<span style="left:512.52px;top:463.02px;font-size:15.6px;line-height:15.6px;color:#4b9df0;letter-spacing:-0.362px;">0.0</span>
<div class="dd" style="left:459.00px;top:515.00px"></div>
<span style="left:469.70px;top:522.02px;font-size:15.4px;line-height:15.4px;color:#cdcdcd;letter-spacing:0.066px;">Leggi</span>
<svg style="left:561.90px;top:525.60px;" width="12" height="7" viewBox="0 0 12 7"><path d="M0.8 0.8 L5.7 5.0 L10.6 0.8" stroke="#d0d0d0" stroke-width="1.4" fill="none" stroke-linecap="round" stroke-linejoin="miter"/></svg>
<div style="left:476.10px;top:547.10px;width:29.10px;height:27.50px;background:#1c1c1c;border:1.2px solid #3a3a3a;border-radius:4.5px"></div>
<span style="left:484.70px;top:554.02px;font-size:14.4px;line-height:14.4px;color:#cfcfcf;">M</span>
<div style="left:508.60px;top:547.10px;width:29.10px;height:27.50px;background:#1c1c1c;border:1.2px solid #3a3a3a;border-radius:4.5px"></div>
<span style="left:518.40px;top:554.02px;font-size:14.4px;line-height:14.4px;color:#cfcfcf;">S</span>
<div style="left:541.10px;top:547.10px;width:29.10px;height:27.50px;background:#1c1c1c;border:1.2px solid #3a3a3a;border-radius:4.5px"></div>
<span style="left:550.50px;top:554.02px;font-size:14.4px;line-height:14.4px;color:#555555;">R</span>
<div style="left:499.00px;top:602.80px;width:4.00px;height:129.10px;background:#060606"></div>
<div class="tk" style="left:492.70px;top:610px;width:5.9px"></div>
<div class="tk" style="left:503.50px;top:610px;width:4.6px"></div>
<div class="tk" style="left:492.70px;top:628px;width:5.9px"></div>
<div class="tk" style="left:503.50px;top:628px;width:4.6px"></div>
<div class="tk" style="left:492.70px;top:639px;width:5.9px"></div>
<div class="tk" style="left:503.50px;top:639px;width:4.6px"></div>
<div class="tk" style="left:492.70px;top:659px;width:5.9px"></div>
<div class="tk" style="left:503.50px;top:659px;width:4.6px"></div>
<div class="tk" style="left:492.70px;top:680px;width:5.9px"></div>
<div class="tk" style="left:503.50px;top:680px;width:4.6px"></div>
<div class="tk" style="left:492.70px;top:695px;width:5.9px"></div>
<div class="tk" style="left:503.50px;top:695px;width:4.6px"></div>
<div class="tk" style="left:492.70px;top:714px;width:5.9px"></div>
<div class="tk" style="left:503.50px;top:714px;width:4.6px"></div>
<div class="tk" style="left:492.70px;top:724px;width:5.9px"></div>
<div class="tk" style="left:503.50px;top:724px;width:4.6px"></div>
<div class="dt" style="left:497.50px;top:613.75px"></div>
<div class="dt" style="left:497.50px;top:618.45px"></div>
<div class="dt" style="left:497.50px;top:622.75px"></div>
<div class="dt" style="left:497.50px;top:632.75px"></div>
<div class="dt" style="left:497.50px;top:643.95px"></div>
<div class="dt" style="left:497.50px;top:649.45px"></div>
<div class="dt" style="left:497.50px;top:653.95px"></div>
<div class="dt" style="left:497.50px;top:662.55px"></div>
<div class="dt" style="left:497.50px;top:666.75px"></div>
<div class="dt" style="left:497.50px;top:670.95px"></div>
<div class="dt" style="left:497.50px;top:673.75px"></div>
<div class="dt" style="left:497.50px;top:676.55px"></div>
<div class="dt" style="left:497.50px;top:682.15px"></div>
<div class="dt" style="left:497.50px;top:684.95px"></div>
<div class="dt" style="left:497.50px;top:688.25px"></div>
<div class="dt" style="left:497.50px;top:691.45px"></div>
<div class="dt" style="left:497.50px;top:699.45px"></div>
<div class="dt" style="left:497.50px;top:703.95px"></div>
<div class="dt" style="left:497.50px;top:707.85px"></div>
<div class="dt" style="left:497.50px;top:710.65px"></div>
<span style="left:475.16px;top:591.02px;font-size:11.4px;line-height:11.4px;color:#a0a0a0;">dB</span>
<span style="left:482.76px;top:606.02px;font-size:11.4px;line-height:11.4px;color:#a0a0a0;">6</span>
<span style="left:482.76px;top:635.02px;font-size:11.4px;line-height:11.4px;color:#a0a0a0;">0</span>
<span style="left:478.96px;top:655.02px;font-size:11.4px;line-height:11.4px;color:#a0a0a0;">-4</span>
<span style="left:472.63px;top:677.02px;font-size:11.4px;line-height:11.4px;color:#a0a0a0;">-10</span>
<span style="left:472.63px;top:692.02px;font-size:11.4px;line-height:11.4px;color:#a0a0a0;">-16</span>
<span style="left:475.72px;top:720.02px;font-size:12.4px;line-height:12.4px;color:#a0a0a0;letter-spacing:0.416px;">-∞</span>
<div style="left:490.90px;top:616.70px;width:20.00px;height:44.40px;background:#212121;border:3px solid #939393;border-radius:5px;box-shadow:inset 0 0 0 0.6px #a8a8a8"></div>
<div style="left:497.60px;top:637.60px;width:7.00px;height:2.60px;background:#9c9c9c;border-radius:1.3px"></div>
<div style="left:519.60px;top:587.20px;width:36.80px;height:154.40px;background:#000"></div>
<div class="cr" style="left:520.80px;top:588.80px;width:16.60px;height:11.40px"></div>
<div class="cr" style="left:538.80px;top:588.80px;width:16.60px;height:11.40px"></div>
<div style="left:537.50px;top:603.00px;width:1.20px;height:137.00px;background:#151515"></div>
<div class="cd" style="left:520.80px;top:601.50px;width:16.60px;height:138.50px"></div>
<div class="g" style="left:520.80px;top:605.60px;width:16.60px;height:134.40px;background-size:100% 138.50px;background-position:0 -4.10px"></div>
<div style="left:520.80px;top:604.10px;width:16.60px;height:1.80px;background:#f2ea45"></div>
<div class="cd" style="left:538.80px;top:601.50px;width:16.60px;height:138.50px"></div>
<div class="g" style="left:538.80px;top:603.00px;width:16.60px;height:137.00px;background-size:100% 138.50px;background-position:0 -1.50px"></div>
<div style="left:538.80px;top:603.00px;width:16.60px;height:1.20px;background:#f2ea45"></div>
<div class="tk" style="left:556.40px;top:603px;width:5.8px"></div>
<div class="tk" style="left:556.40px;top:684px;width:5.8px"></div>
<div class="tk" style="left:556.40px;top:630px;width:3.2px"></div>
<div class="tk" style="left:556.40px;top:657px;width:3.2px"></div>
<div class="tk" style="left:556.40px;top:711px;width:3.2px"></div>
<div class="tk" style="left:556.40px;top:738px;width:3.2px"></div>
<span style="left:567.40px;top:597.02px;font-size:13.5px;line-height:13.5px;color:#a0a0a0;">0</span>
<span style="left:567.70px;top:678.02px;font-size:13.5px;line-height:13.5px;color:#a0a0a0;letter-spacing:-0.172px;">-36</span>
<span style="left:567.80px;top:727.02px;font-size:14.2px;line-height:14.2px;color:#a0a0a0;letter-spacing:-0.780px;">dB</span>
<span style="left:474.40px;top:754.02px;font-size:15.3px;line-height:15.3px;color:#4b9df0;">0.0</span>
<span style="left:518.40px;top:754.02px;font-size:15.5px;line-height:15.5px;color:#b4b4b4;">-0.2</span>
<span style="left:465.20px;top:785.02px;font-size:15.6px;line-height:15.6px;color:#a8a8a8;letter-spacing:-0.139px;">A2</span>
<div style="left:495.90px;top:778.40px;width:91.70px;height:26.60px;background:#181818;border:1px solid #363636;border-radius:5px"></div>
<span style="left:513.88px;top:785.02px;font-size:15.6px;line-height:15.6px;color:#d4d4d4;letter-spacing:0.358px;">Audio 4</span>
<div style="left:603.70px;top:47.00px;width:121.50px;height:1.00px;background:#404040"></div>
<div class="pn" style="left:603.70px;top:48px;width:121.50px;height:263px"></div>
<svg style="left:710.40px;top:60.50px;" width="9" height="6" viewBox="0 0 9 6"><path d="M0.5 0.6 H8.3 L4.4 5.0 Z" fill="#7c7c7c"/></svg>
<svg style="left:710.40px;top:81.80px;" width="9" height="6" viewBox="0 0 9 6"><path d="M0.5 0.6 H8.3 L4.4 5.0 Z" fill="#7c7c7c"/></svg>
<svg style="left:710.40px;top:103.10px;" width="9" height="6" viewBox="0 0 9 6"><path d="M0.5 0.6 H8.3 L4.4 5.0 Z" fill="#7c7c7c"/></svg>
<svg style="left:710.40px;top:124.40px;" width="9" height="6" viewBox="0 0 9 6"><path d="M0.5 0.6 H8.3 L4.4 5.0 Z" fill="#7c7c7c"/></svg>
<svg style="left:710.40px;top:145.70px;" width="9" height="6" viewBox="0 0 9 6"><path d="M0.5 0.6 H8.3 L4.4 5.0 Z" fill="#7c7c7c"/></svg>
<svg style="left:710.40px;top:167.00px;" width="9" height="6" viewBox="0 0 9 6"><path d="M0.5 0.6 H8.3 L4.4 5.0 Z" fill="#7c7c7c"/></svg>
<svg style="left:710.40px;top:188.30px;" width="9" height="6" viewBox="0 0 9 6"><path d="M0.5 0.6 H8.3 L4.4 5.0 Z" fill="#7c7c7c"/></svg>
<svg style="left:710.40px;top:209.70px;" width="9" height="6" viewBox="0 0 9 6"><path d="M0.5 0.6 H8.3 L4.4 5.0 Z" fill="#7c7c7c"/></svg>
<div style="left:605.30px;top:115.00px;width:118.90px;height:1.30px;background:#585858;box-shadow:0 1px 0 rgba(255,255,255,.10)"></div>
<svg style="left:603.70px;top:219.00px;" width="121.5" height="32" viewBox="0 0 121.5 32"><path d="M0.4 7.4 L4.6 4.0 H111" stroke="#828282" stroke-width="1.3" fill="none"/><circle cx="106.2" cy="15.3" r="12.6" stroke="#828282" stroke-width="1.4" fill="none"/></svg>
<div class="dd" style="left:599.60px;top:316.00px"></div>
<span style="left:610.30px;top:323.02px;font-size:15.4px;line-height:15.4px;color:#cdcdcd;letter-spacing:0.325px;">Built-in M...</span>
<svg style="left:702.50px;top:326.60px;" width="12" height="7" viewBox="0 0 12 7"><path d="M0.8 0.8 L5.7 5.0 L10.6 0.8" stroke="#d0d0d0" stroke-width="1.4" fill="none" stroke-linecap="round" stroke-linejoin="miter"/></svg>
<div class="dd" style="left:599.60px;top:348.80px"></div>
<span style="left:610.30px;top:355.02px;font-size:15.4px;line-height:15.4px;color:#cdcdcd;letter-spacing:0.461px;">Principale</span>
<svg style="left:702.50px;top:359.40px;" width="12" height="7" viewBox="0 0 12 7"><path d="M0.8 0.8 L5.7 5.0 L10.6 0.8" stroke="#d0d0d0" stroke-width="1.4" fill="none" stroke-linecap="round" stroke-linejoin="miter"/></svg>
<svg style="left:626.80px;top:384.00px;" width="74" height="74" viewBox="0 0 74 74"><ellipse cx="36.55" cy="36.2" rx="32.7" ry="31.6" stroke="#8c8c8c" stroke-width="3" fill="none"/><path d="M36.4 4.5 V36.3" stroke="#8c8c8c" stroke-width="3"/></svg>
<span style="left:619.40px;top:438.02px;font-size:15.6px;line-height:15.6px;color:#4b9df0;transform:scaleX(0.86);transform-origin:0 50%;">S</span>
<span style="left:699.40px;top:438.02px;font-size:15.6px;line-height:15.6px;color:#4b9df0;">D</span>
<span style="left:653.12px;top:463.02px;font-size:15.6px;line-height:15.6px;color:#4b9df0;letter-spacing:-0.362px;">0.0</span>
<div class="dd" style="left:599.60px;top:515.00px"></div>
<span style="left:610.30px;top:522.02px;font-size:15.4px;line-height:15.4px;color:#cdcdcd;letter-spacing:0.066px;">Leggi</span>
<svg style="left:702.50px;top:525.60px;" width="12" height="7" viewBox="0 0 12 7"><path d="M0.8 0.8 L5.7 5.0 L10.6 0.8" stroke="#d0d0d0" stroke-width="1.4" fill="none" stroke-linecap="round" stroke-linejoin="miter"/></svg>
<div style="left:616.70px;top:547.10px;width:29.10px;height:27.50px;background:#1c1c1c;border:1.2px solid #3a3a3a;border-radius:4.5px"></div>
<span style="left:625.30px;top:554.02px;font-size:14.4px;line-height:14.4px;color:#cfcfcf;">M</span>
<div style="left:649.20px;top:547.10px;width:29.10px;height:27.50px;background:#1c1c1c;border:1.2px solid #3a3a3a;border-radius:4.5px"></div>
<span style="left:659.00px;top:554.02px;font-size:14.4px;line-height:14.4px;color:#cfcfcf;">S</span>
<div style="left:681.70px;top:547.10px;width:29.10px;height:27.50px;background:#1c1c1c;border:1.2px solid #3a3a3a;border-radius:4.5px"></div>
<span style="left:691.10px;top:554.02px;font-size:14.4px;line-height:14.4px;color:#555555;">R</span>
<div style="left:639.60px;top:602.80px;width:4.00px;height:129.10px;background:#060606"></div>
<div class="tk" style="left:633.30px;top:610px;width:5.9px"></div>
<div class="tk" style="left:644.10px;top:610px;width:4.6px"></div>
<div class="tk" style="left:633.30px;top:628px;width:5.9px"></div>
<div class="tk" style="left:644.10px;top:628px;width:4.6px"></div>
<div class="tk" style="left:633.30px;top:639px;width:5.9px"></div>
<div class="tk" style="left:644.10px;top:639px;width:4.6px"></div>
<div class="tk" style="left:633.30px;top:659px;width:5.9px"></div>
<div class="tk" style="left:644.10px;top:659px;width:4.6px"></div>
<div class="tk" style="left:633.30px;top:680px;width:5.9px"></div>
<div class="tk" style="left:644.10px;top:680px;width:4.6px"></div>
<div class="tk" style="left:633.30px;top:695px;width:5.9px"></div>
<div class="tk" style="left:644.10px;top:695px;width:4.6px"></div>
<div class="tk" style="left:633.30px;top:714px;width:5.9px"></div>
<div class="tk" style="left:644.10px;top:714px;width:4.6px"></div>
<div class="tk" style="left:633.30px;top:724px;width:5.9px"></div>
<div class="tk" style="left:644.10px;top:724px;width:4.6px"></div>
<div class="dt" style="left:638.10px;top:613.75px"></div>
<div class="dt" style="left:638.10px;top:618.45px"></div>
<div class="dt" style="left:638.10px;top:622.75px"></div>
<div class="dt" style="left:638.10px;top:632.75px"></div>
<div class="dt" style="left:638.10px;top:643.95px"></div>
<div class="dt" style="left:638.10px;top:649.45px"></div>
<div class="dt" style="left:638.10px;top:653.95px"></div>
<div class="dt" style="left:638.10px;top:662.55px"></div>
<div class="dt" style="left:638.10px;top:666.75px"></div>
<div class="dt" style="left:638.10px;top:670.95px"></div>
<div class="dt" style="left:638.10px;top:673.75px"></div>
<div class="dt" style="left:638.10px;top:676.55px"></div>
<div class="dt" style="left:638.10px;top:682.15px"></div>
<div class="dt" style="left:638.10px;top:684.95px"></div>
<div class="dt" style="left:638.10px;top:688.25px"></div>
<div class="dt" style="left:638.10px;top:691.45px"></div>
<div class="dt" style="left:638.10px;top:699.45px"></div>
<div class="dt" style="left:638.10px;top:703.95px"></div>
<div class="dt" style="left:638.10px;top:707.85px"></div>
<div class="dt" style="left:638.10px;top:710.65px"></div>
<span style="left:615.76px;top:591.02px;font-size:11.4px;line-height:11.4px;color:#a0a0a0;">dB</span>
<span style="left:623.36px;top:606.02px;font-size:11.4px;line-height:11.4px;color:#a0a0a0;">6</span>
<span style="left:623.36px;top:635.02px;font-size:11.4px;line-height:11.4px;color:#a0a0a0;">0</span>
<span style="left:619.56px;top:655.02px;font-size:11.4px;line-height:11.4px;color:#a0a0a0;">-4</span>
<span style="left:613.23px;top:677.02px;font-size:11.4px;line-height:11.4px;color:#a0a0a0;">-10</span>
<span style="left:613.23px;top:692.02px;font-size:11.4px;line-height:11.4px;color:#a0a0a0;">-16</span>
<span style="left:616.32px;top:720.02px;font-size:12.4px;line-height:12.4px;color:#a0a0a0;letter-spacing:0.416px;">-∞</span>
<div style="left:631.50px;top:616.70px;width:20.00px;height:44.40px;background:#212121;border:3px solid #939393;border-radius:5px;box-shadow:inset 0 0 0 0.6px #a8a8a8"></div>
<div style="left:638.20px;top:637.60px;width:7.00px;height:2.60px;background:#9c9c9c;border-radius:1.3px"></div>
<div style="left:660.20px;top:587.20px;width:36.80px;height:154.40px;background:#000"></div>
<div class="cd" style="left:661.40px;top:588.80px;width:16.60px;height:11.40px"></div>
<div class="cr" style="left:679.40px;top:588.80px;width:16.60px;height:11.40px"></div>
<div style="left:678.10px;top:603.00px;width:1.20px;height:137.00px;background:#151515"></div>
<div class="cd" style="left:661.40px;top:601.50px;width:16.60px;height:138.50px"></div>
<div class="g" style="left:661.40px;top:610.20px;width:16.60px;height:129.80px;background-size:100% 138.50px;background-position:0 -8.70px"></div>
<div style="left:661.40px;top:604.20px;width:16.60px;height:1.80px;background:#f2ea45"></div>
<div class="cd" style="left:679.40px;top:601.50px;width:16.60px;height:138.50px"></div>
<div class="g" style="left:679.40px;top:603.00px;width:16.60px;height:137.00px;background-size:100% 138.50px;background-position:0 -1.50px"></div>
<div style="left:679.40px;top:603.00px;width:16.60px;height:1.20px;background:#f2ea45"></div>
<div class="tk" style="left:697.00px;top:603px;width:5.8px"></div>
<div class="tk" style="left:697.00px;top:684px;width:5.8px"></div>
<div class="tk" style="left:697.00px;top:630px;width:3.2px"></div>
<div class="tk" style="left:697.00px;top:657px;width:3.2px"></div>
<div class="tk" style="left:697.00px;top:711px;width:3.2px"></div>
<div class="tk" style="left:697.00px;top:738px;width:3.2px"></div>
<span style="left:708.00px;top:597.02px;font-size:13.5px;line-height:13.5px;color:#a0a0a0;">0</span>
<span style="left:708.30px;top:678.02px;font-size:13.5px;line-height:13.5px;color:#a0a0a0;letter-spacing:-0.172px;">-36</span>
<span style="left:708.40px;top:727.02px;font-size:14.2px;line-height:14.2px;color:#a0a0a0;letter-spacing:-0.780px;">dB</span>
<span style="left:615.00px;top:754.02px;font-size:15.3px;line-height:15.3px;color:#4b9df0;">0.0</span>
<span style="left:659.00px;top:754.02px;font-size:15.5px;line-height:15.5px;color:#b4b4b4;">-0.1</span>
<span style="left:605.80px;top:785.02px;font-size:15.6px;line-height:15.6px;color:#a8a8a8;letter-spacing:-0.139px;">A2</span>
<div style="left:636.50px;top:778.40px;width:91.70px;height:26.60px;background:#181818;border:1px solid #363636;border-radius:5px"></div>
<span style="left:654.48px;top:785.02px;font-size:15.6px;line-height:15.6px;color:#d4d4d4;letter-spacing:0.358px;">Audio 5</span>
<div style="left:744.30px;top:47.00px;width:121.50px;height:1.00px;background:#404040"></div>
<div class="pn" style="left:744.30px;top:48px;width:121.50px;height:263px"></div>
<svg style="left:851.00px;top:60.50px;" width="9" height="6" viewBox="0 0 9 6"><path d="M0.5 0.6 H8.3 L4.4 5.0 Z" fill="#7c7c7c"/></svg>
<svg style="left:851.00px;top:81.80px;" width="9" height="6" viewBox="0 0 9 6"><path d="M0.5 0.6 H8.3 L4.4 5.0 Z" fill="#7c7c7c"/></svg>
<svg style="left:851.00px;top:103.10px;" width="9" height="6" viewBox="0 0 9 6"><path d="M0.5 0.6 H8.3 L4.4 5.0 Z" fill="#7c7c7c"/></svg>
<svg style="left:851.00px;top:124.40px;" width="9" height="6" viewBox="0 0 9 6"><path d="M0.5 0.6 H8.3 L4.4 5.0 Z" fill="#7c7c7c"/></svg>
<svg style="left:851.00px;top:145.70px;" width="9" height="6" viewBox="0 0 9 6"><path d="M0.5 0.6 H8.3 L4.4 5.0 Z" fill="#7c7c7c"/></svg>
<svg style="left:851.00px;top:167.00px;" width="9" height="6" viewBox="0 0 9 6"><path d="M0.5 0.6 H8.3 L4.4 5.0 Z" fill="#7c7c7c"/></svg>
<svg style="left:851.00px;top:188.30px;" width="9" height="6" viewBox="0 0 9 6"><path d="M0.5 0.6 H8.3 L4.4 5.0 Z" fill="#7c7c7c"/></svg>
<svg style="left:851.00px;top:209.70px;" width="9" height="6" viewBox="0 0 9 6"><path d="M0.5 0.6 H8.3 L4.4 5.0 Z" fill="#7c7c7c"/></svg>
<div style="left:745.90px;top:115.00px;width:118.90px;height:1.30px;background:#585858;box-shadow:0 1px 0 rgba(255,255,255,.10)"></div>
<svg style="left:744.30px;top:219.00px;" width="121.5" height="32" viewBox="0 0 121.5 32"><path d="M0.4 7.4 L4.6 4.0 H111" stroke="#828282" stroke-width="1.3" fill="none"/><circle cx="106.2" cy="15.3" r="12.6" stroke="#828282" stroke-width="1.4" fill="none"/></svg>
<div class="dd" style="left:740.20px;top:316.00px"></div>
<span style="left:750.90px;top:323.02px;font-size:15.4px;line-height:15.4px;color:#cdcdcd;letter-spacing:0.325px;">Built-in M...</span>
<svg style="left:843.10px;top:326.60px;" width="12" height="7" viewBox="0 0 12 7"><path d="M0.8 0.8 L5.7 5.0 L10.6 0.8" stroke="#d0d0d0" stroke-width="1.4" fill="none" stroke-linecap="round" stroke-linejoin="miter"/></svg>
<div class="dd" style="left:740.20px;top:348.80px"></div>
<span style="left:750.90px;top:355.02px;font-size:15.4px;line-height:15.4px;color:#cdcdcd;letter-spacing:0.461px;">Principale</span>
<svg style="left:843.10px;top:359.40px;" width="12" height="7" viewBox="0 0 12 7"><path d="M0.8 0.8 L5.7 5.0 L10.6 0.8" stroke="#d0d0d0" stroke-width="1.4" fill="none" stroke-linecap="round" stroke-linejoin="miter"/></svg>
<svg style="left:767.40px;top:384.00px;" width="74" height="74" viewBox="0 0 74 74"><ellipse cx="36.55" cy="36.2" rx="32.7" ry="31.6" stroke="#8c8c8c" stroke-width="3" fill="none"/><path d="M36.4 4.5 V36.3" stroke="#8c8c8c" stroke-width="3"/></svg>
<span style="left:760.00px;top:438.02px;font-size:15.6px;line-height:15.6px;color:#4b9df0;transform:scaleX(0.86);transform-origin:0 50%;">S</span>
<span style="left:840.00px;top:438.02px;font-size:15.6px;line-height:15.6px;color:#4b9df0;">D</span>
<span style="left:793.72px;top:463.02px;font-size:15.6px;line-height:15.6px;color:#4b9df0;letter-spacing:-0.362px;">0.0</span>
<div class="dd" style="left:740.20px;top:515.00px"></div>
<span style="left:750.90px;top:522.02px;font-size:15.4px;line-height:15.4px;color:#cdcdcd;letter-spacing:0.066px;">Leggi</span>
<svg style="left:843.10px;top:525.60px;" width="12" height="7" viewBox="0 0 12 7"><path d="M0.8 0.8 L5.7 5.0 L10.6 0.8" stroke="#d0d0d0" stroke-width="1.4" fill="none" stroke-linecap="round" stroke-linejoin="miter"/></svg>
<div style="left:757.30px;top:547.10px;width:29.10px;height:27.50px;background:#1c1c1c;border:1.2px solid #3a3a3a;border-radius:4.5px"></div>
<span style="left:765.90px;top:554.02px;font-size:14.4px;line-height:14.4px;color:#cfcfcf;">M</span>
<div style="left:789.80px;top:547.10px;width:29.10px;height:27.50px;background:#1c1c1c;border:1.2px solid #3a3a3a;border-radius:4.5px"></div>
<span style="left:799.60px;top:554.02px;font-size:14.4px;line-height:14.4px;color:#cfcfcf;">S</span>
<div style="left:822.30px;top:547.10px;width:29.10px;height:27.50px;background:#1c1c1c;border:1.2px solid #3a3a3a;border-radius:4.5px"></div>
<span style="left:831.70px;top:554.02px;font-size:14.4px;line-height:14.4px;color:#555555;">R</span>
<div style="left:780.20px;top:602.80px;width:4.00px;height:129.10px;background:#060606"></div>
<div class="tk" style="left:773.90px;top:610px;width:5.9px"></div>
<div class="tk" style="left:784.70px;top:610px;width:4.6px"></div>
<div class="tk" style="left:773.90px;top:628px;width:5.9px"></div>
<div class="tk" style="left:784.70px;top:628px;width:4.6px"></div>
<div class="tk" style="left:773.90px;top:639px;width:5.9px"></div>
<div class="tk" style="left:784.70px;top:639px;width:4.6px"></div>
<div class="tk" style="left:773.90px;top:659px;width:5.9px"></div>
<div class="tk" style="left:784.70px;top:659px;width:4.6px"></div>
<div class="tk" style="left:773.90px;top:680px;width:5.9px"></div>
<div class="tk" style="left:784.70px;top:680px;width:4.6px"></div>
<div class="tk" style="left:773.90px;top:695px;width:5.9px"></div>
<div class="tk" style="left:784.70px;top:695px;width:4.6px"></div>
<div class="tk" style="left:773.90px;top:714px;width:5.9px"></div>
<div class="tk" style="left:784.70px;top:714px;width:4.6px"></div>
<div class="tk" style="left:773.90px;top:724px;width:5.9px"></div>
<div class="tk" style="left:784.70px;top:724px;width:4.6px"></div>
<div class="dt" style="left:778.70px;top:613.75px"></div>
<div class="dt" style="left:778.70px;top:618.45px"></div>
<div class="dt" style="left:778.70px;top:622.75px"></div>
<div class="dt" style="left:778.70px;top:632.75px"></div>
<div class="dt" style="left:778.70px;top:643.95px"></div>
<div class="dt" style="left:778.70px;top:649.45px"></div>
<div class="dt" style="left:778.70px;top:653.95px"></div>
<div class="dt" style="left:778.70px;top:662.55px"></div>
<div class="dt" style="left:778.70px;top:666.75px"></div>
<div class="dt" style="left:778.70px;top:670.95px"></div>
<div class="dt" style="left:778.70px;top:673.75px"></div>
<div class="dt" style="left:778.70px;top:676.55px"></div>
<div class="dt" style="left:778.70px;top:682.15px"></div>
<div class="dt" style="left:778.70px;top:684.95px"></div>
<div class="dt" style="left:778.70px;top:688.25px"></div>
<div class="dt" style="left:778.70px;top:691.45px"></div>
<div class="dt" style="left:778.70px;top:699.45px"></div>
<div class="dt" style="left:778.70px;top:703.95px"></div>
<div class="dt" style="left:778.70px;top:707.85px"></div>
<div class="dt" style="left:778.70px;top:710.65px"></div>
<span style="left:756.36px;top:591.02px;font-size:11.4px;line-height:11.4px;color:#a0a0a0;">dB</span>
<span style="left:763.96px;top:606.02px;font-size:11.4px;line-height:11.4px;color:#a0a0a0;">6</span>
<span style="left:763.96px;top:635.02px;font-size:11.4px;line-height:11.4px;color:#a0a0a0;">0</span>
<span style="left:760.16px;top:655.02px;font-size:11.4px;line-height:11.4px;color:#a0a0a0;">-4</span>
<span style="left:753.83px;top:677.02px;font-size:11.4px;line-height:11.4px;color:#a0a0a0;">-10</span>
<span style="left:753.83px;top:692.02px;font-size:11.4px;line-height:11.4px;color:#a0a0a0;">-16</span>
<span style="left:756.92px;top:720.02px;font-size:12.4px;line-height:12.4px;color:#a0a0a0;letter-spacing:0.416px;">-∞</span>
<div style="left:772.10px;top:616.70px;width:20.00px;height:44.40px;background:#212121;border:3px solid #939393;border-radius:5px;box-shadow:inset 0 0 0 0.6px #a8a8a8"></div>
<div style="left:778.80px;top:637.60px;width:7.00px;height:2.60px;background:#9c9c9c;border-radius:1.3px"></div>
<div style="left:800.80px;top:587.20px;width:36.80px;height:154.40px;background:#000"></div>
<div class="cd" style="left:802.00px;top:588.80px;width:16.60px;height:11.40px"></div>
<div class="cd" style="left:820.00px;top:588.80px;width:16.60px;height:11.40px"></div>
<div style="left:818.70px;top:613.20px;width:1.20px;height:126.80px;background:#151515"></div>
<div class="cd" style="left:802.00px;top:601.50px;width:16.60px;height:138.50px"></div>
<div class="g" style="left:802.00px;top:613.20px;width:16.60px;height:126.80px;background-size:100% 138.50px;background-position:0 -11.70px"></div>
<div style="left:802.00px;top:604.20px;width:16.60px;height:1.80px;background:#f2ea45"></div>
<div class="cd" style="left:820.00px;top:601.50px;width:16.60px;height:138.50px"></div>
<div class="g" style="left:820.00px;top:617.00px;width:16.60px;height:123.00px;background-size:100% 138.50px;background-position:0 -15.50px"></div>
<div style="left:820.00px;top:604.20px;width:16.60px;height:1.80px;background:#f2ea45"></div>
<div class="tk" style="left:837.60px;top:603px;width:5.8px"></div>
<div class="tk" style="left:837.60px;top:684px;width:5.8px"></div>
<div class="tk" style="left:837.60px;top:630px;width:3.2px"></div>
<div class="tk" style="left:837.60px;top:657px;width:3.2px"></div>
<div class="tk" style="left:837.60px;top:711px;width:3.2px"></div>
<div class="tk" style="left:837.60px;top:738px;width:3.2px"></div>
<span style="left:848.60px;top:597.02px;font-size:13.5px;line-height:13.5px;color:#a0a0a0;">0</span>
<span style="left:848.90px;top:678.02px;font-size:13.5px;line-height:13.5px;color:#a0a0a0;letter-spacing:-0.172px;">-36</span>
<span style="left:849.00px;top:727.02px;font-size:14.2px;line-height:14.2px;color:#a0a0a0;letter-spacing:-0.780px;">dB</span>
<span style="left:755.60px;top:754.02px;font-size:15.3px;line-height:15.3px;color:#4b9df0;">0.0</span>
<span style="left:799.60px;top:754.02px;font-size:15.5px;line-height:15.5px;color:#b4b4b4;">-0.3</span>
<span style="left:746.40px;top:785.02px;font-size:15.6px;line-height:15.6px;color:#a8a8a8;letter-spacing:-0.139px;">A2</span>
<div style="left:777.10px;top:778.40px;width:91.70px;height:26.60px;background:#181818;border:1px solid #363636;border-radius:5px"></div>
<span style="left:795.08px;top:785.02px;font-size:15.6px;line-height:15.6px;color:#d4d4d4;letter-spacing:0.358px;">Audio 6</span>
<div style="left:884.90px;top:47.00px;width:121.50px;height:1.00px;background:#404040"></div>
<div class="pn" style="left:884.90px;top:48px;width:121.50px;height:263px"></div>
<svg style="left:991.60px;top:60.50px;" width="9" height="6" viewBox="0 0 9 6"><path d="M0.5 0.6 H8.3 L4.4 5.0 Z" fill="#7c7c7c"/></svg>
<svg style="left:991.60px;top:81.80px;" width="9" height="6" viewBox="0 0 9 6"><path d="M0.5 0.6 H8.3 L4.4 5.0 Z" fill="#7c7c7c"/></svg>
<svg style="left:991.60px;top:103.10px;" width="9" height="6" viewBox="0 0 9 6"><path d="M0.5 0.6 H8.3 L4.4 5.0 Z" fill="#7c7c7c"/></svg>
<svg style="left:991.60px;top:124.40px;" width="9" height="6" viewBox="0 0 9 6"><path d="M0.5 0.6 H8.3 L4.4 5.0 Z" fill="#7c7c7c"/></svg>
<svg style="left:991.60px;top:145.70px;" width="9" height="6" viewBox="0 0 9 6"><path d="M0.5 0.6 H8.3 L4.4 5.0 Z" fill="#7c7c7c"/></svg>
<svg style="left:991.60px;top:167.00px;" width="9" height="6" viewBox="0 0 9 6"><path d="M0.5 0.6 H8.3 L4.4 5.0 Z" fill="#7c7c7c"/></svg>
<svg style="left:991.60px;top:188.30px;" width="9" height="6" viewBox="0 0 9 6"><path d="M0.5 0.6 H8.3 L4.4 5.0 Z" fill="#7c7c7c"/></svg>
<svg style="left:991.60px;top:209.70px;" width="9" height="6" viewBox="0 0 9 6"><path d="M0.5 0.6 H8.3 L4.4 5.0 Z" fill="#7c7c7c"/></svg>
<div style="left:886.50px;top:115.00px;width:118.90px;height:1.30px;background:#585858;box-shadow:0 1px 0 rgba(255,255,255,.10)"></div>
<svg style="left:884.90px;top:219.00px;" width="121.5" height="32" viewBox="0 0 121.5 32"><path d="M0.4 7.4 L4.6 4.0 H111" stroke="#828282" stroke-width="1.3" fill="none"/><circle cx="106.2" cy="15.3" r="12.6" stroke="#828282" stroke-width="1.4" fill="none"/></svg>
<div class="dd" style="left:880.80px;top:316.00px"></div>
<span style="left:891.50px;top:323.02px;font-size:15.4px;line-height:15.4px;color:#cdcdcd;letter-spacing:0.325px;">Built-in M...</span>
<svg style="left:983.70px;top:326.60px;" width="12" height="7" viewBox="0 0 12 7"><path d="M0.8 0.8 L5.7 5.0 L10.6 0.8" stroke="#d0d0d0" stroke-width="1.4" fill="none" stroke-linecap="round" stroke-linejoin="miter"/></svg>
<div class="dd" style="left:880.80px;top:348.80px"></div>
<span style="left:891.50px;top:355.02px;font-size:15.4px;line-height:15.4px;color:#cdcdcd;letter-spacing:0.461px;">Principale</span>
<svg style="left:983.70px;top:359.40px;" width="12" height="7" viewBox="0 0 12 7"><path d="M0.8 0.8 L5.7 5.0 L10.6 0.8" stroke="#d0d0d0" stroke-width="1.4" fill="none" stroke-linecap="round" stroke-linejoin="miter"/></svg>
<svg style="left:908.00px;top:384.00px;" width="74" height="74" viewBox="0 0 74 74"><ellipse cx="36.55" cy="36.2" rx="32.7" ry="31.6" stroke="#8c8c8c" stroke-width="3" fill="none"/><path d="M36.4 4.5 V36.3" stroke="#8c8c8c" stroke-width="3"/></svg>
<span style="left:900.60px;top:438.02px;font-size:15.6px;line-height:15.6px;color:#4b9df0;transform:scaleX(0.86);transform-origin:0 50%;">S</span>
<span style="left:980.60px;top:438.02px;font-size:15.6px;line-height:15.6px;color:#4b9df0;">D</span>
<span style="left:934.32px;top:463.02px;font-size:15.6px;line-height:15.6px;color:#4b9df0;letter-spacing:-0.362px;">0.0</span>
<div class="dd" style="left:880.80px;top:515.00px"></div>
<span style="left:891.50px;top:522.02px;font-size:15.4px;line-height:15.4px;color:#cdcdcd;letter-spacing:0.066px;">Leggi</span>
<svg style="left:983.70px;top:525.60px;" width="12" height="7" viewBox="0 0 12 7"><path d="M0.8 0.8 L5.7 5.0 L10.6 0.8" stroke="#d0d0d0" stroke-width="1.4" fill="none" stroke-linecap="round" stroke-linejoin="miter"/></svg>
<div style="left:897.90px;top:547.10px;width:29.10px;height:27.50px;background:#1c1c1c;border:1.2px solid #3a3a3a;border-radius:4.5px"></div>
<span style="left:906.50px;top:554.02px;font-size:14.4px;line-height:14.4px;color:#cfcfcf;">M</span>
<div style="left:930.40px;top:547.10px;width:29.10px;height:27.50px;background:#1c1c1c;border:1.2px solid #3a3a3a;border-radius:4.5px"></div>
<span style="left:940.20px;top:554.02px;font-size:14.4px;line-height:14.4px;color:#cfcfcf;">S</span>
<div style="left:962.90px;top:547.10px;width:29.10px;height:27.50px;background:#1c1c1c;border:1.2px solid #3a3a3a;border-radius:4.5px"></div>
<span style="left:972.30px;top:554.02px;font-size:14.4px;line-height:14.4px;color:#555555;">R</span>
<div style="left:920.80px;top:602.80px;width:4.00px;height:129.10px;background:#060606"></div>
<div class="tk" style="left:914.50px;top:610px;width:5.9px"></div>
<div class="tk" style="left:925.30px;top:610px;width:4.6px"></div>
<div class="tk" style="left:914.50px;top:628px;width:5.9px"></div>
<div class="tk" style="left:925.30px;top:628px;width:4.6px"></div>
<div class="tk" style="left:914.50px;top:639px;width:5.9px"></div>
<div class="tk" style="left:925.30px;top:639px;width:4.6px"></div>
<div class="tk" style="left:914.50px;top:659px;width:5.9px"></div>
<div class="tk" style="left:925.30px;top:659px;width:4.6px"></div>
<div class="tk" style="left:914.50px;top:680px;width:5.9px"></div>
<div class="tk" style="left:925.30px;top:680px;width:4.6px"></div>
<div class="tk" style="left:914.50px;top:695px;width:5.9px"></div>
<div class="tk" style="left:925.30px;top:695px;width:4.6px"></div>
<div class="tk" style="left:914.50px;top:714px;width:5.9px"></div>
<div class="tk" style="left:925.30px;top:714px;width:4.6px"></div>
<div class="tk" style="left:914.50px;top:724px;width:5.9px"></div>
<div class="tk" style="left:925.30px;top:724px;width:4.6px"></div>
<div class="dt" style="left:919.30px;top:613.75px"></div>
<div class="dt" style="left:919.30px;top:618.45px"></div>
<div class="dt" style="left:919.30px;top:622.75px"></div>
<div class="dt" style="left:919.30px;top:632.75px"></div>
<div class="dt" style="left:919.30px;top:643.95px"></div>
<div class="dt" style="left:919.30px;top:649.45px"></div>
<div class="dt" style="left:919.30px;top:653.95px"></div>
<div class="dt" style="left:919.30px;top:662.55px"></div>
<div class="dt" style="left:919.30px;top:666.75px"></div>
<div class="dt" style="left:919.30px;top:670.95px"></div>
<div class="dt" style="left:919.30px;top:673.75px"></div>
<div class="dt" style="left:919.30px;top:676.55px"></div>
<div class="dt" style="left:919.30px;top:682.15px"></div>
<div class="dt" style="left:919.30px;top:684.95px"></div>
<div class="dt" style="left:919.30px;top:688.25px"></div>
<div class="dt" style="left:919.30px;top:691.45px"></div>
<div class="dt" style="left:919.30px;top:699.45px"></div>
<div class="dt" style="left:919.30px;top:703.95px"></div>
<div class="dt" style="left:919.30px;top:707.85px"></div>
<div class="dt" style="left:919.30px;top:710.65px"></div>
<span style="left:896.96px;top:591.02px;font-size:11.4px;line-height:11.4px;color:#a0a0a0;">dB</span>
<span style="left:904.56px;top:606.02px;font-size:11.4px;line-height:11.4px;color:#a0a0a0;">6</span>
<span style="left:904.56px;top:635.02px;font-size:11.4px;line-height:11.4px;color:#a0a0a0;">0</span>
<span style="left:900.76px;top:655.02px;font-size:11.4px;line-height:11.4px;color:#a0a0a0;">-4</span>
<span style="left:894.43px;top:677.02px;font-size:11.4px;line-height:11.4px;color:#a0a0a0;">-10</span>
<span style="left:894.43px;top:692.02px;font-size:11.4px;line-height:11.4px;color:#a0a0a0;">-16</span>
<span style="left:897.52px;top:720.02px;font-size:12.4px;line-height:12.4px;color:#a0a0a0;letter-spacing:0.416px;">-∞</span>
<div style="left:912.70px;top:625.40px;width:20.00px;height:44.40px;background:#212121;border:3px solid #939393;border-radius:5px;box-shadow:inset 0 0 0 0.6px #a8a8a8"></div>
<div style="left:919.40px;top:646.30px;width:7.00px;height:2.60px;background:#9c9c9c;border-radius:1.3px"></div>
<div style="left:941.40px;top:587.20px;width:36.80px;height:154.40px;background:#000"></div>
<div class="cr" style="left:942.60px;top:588.80px;width:16.60px;height:11.40px"></div>
<div class="cr" style="left:960.60px;top:588.80px;width:16.60px;height:11.40px"></div>
<div style="left:959.30px;top:618.70px;width:1.20px;height:121.30px;background:#151515"></div>
<div class="cd" style="left:942.60px;top:601.50px;width:16.60px;height:138.50px"></div>
<div class="g" style="left:942.60px;top:618.70px;width:16.60px;height:121.30px;background-size:100% 138.50px;background-position:0 -17.20px"></div>
<div style="left:942.60px;top:605.65px;width:16.60px;height:1.30px;background:#f2ea45"></div>
<div class="cd" style="left:960.60px;top:601.50px;width:16.60px;height:138.50px"></div>
<div class="g" style="left:960.60px;top:618.70px;width:16.60px;height:121.30px;background-size:100% 138.50px;background-position:0 -17.20px"></div>
<div style="left:960.60px;top:610.15px;width:16.60px;height:1.30px;background:#f2ea45"></div>
<div class="tk" style="left:978.20px;top:603px;width:5.8px"></div>
<div class="tk" style="left:978.20px;top:684px;width:5.8px"></div>
<div class="tk" style="left:978.20px;top:630px;width:3.2px"></div>
<div class="tk" style="left:978.20px;top:657px;width:3.2px"></div>
<div class="tk" style="left:978.20px;top:711px;width:3.2px"></div>
<div class="tk" style="left:978.20px;top:738px;width:3.2px"></div>
<span style="left:989.20px;top:597.02px;font-size:13.5px;line-height:13.5px;color:#a0a0a0;">0</span>
<span style="left:989.50px;top:678.02px;font-size:13.5px;line-height:13.5px;color:#a0a0a0;letter-spacing:-0.172px;">-36</span>
<span style="left:989.60px;top:727.02px;font-size:14.2px;line-height:14.2px;color:#a0a0a0;letter-spacing:-0.780px;">dB</span>
<span style="left:889.60px;top:754.02px;font-size:15.3px;line-height:15.3px;color:#4b9df0;">-1.6</span>
<span style="left:940.20px;top:754.02px;font-size:15.5px;line-height:15.5px;color:#b4b4b4;">-1.6</span>
<span style="left:887.00px;top:785.02px;font-size:15.6px;line-height:15.6px;color:#a8a8a8;letter-spacing:-0.139px;">A3</span>
<div style="left:917.70px;top:778.40px;width:91.70px;height:26.60px;background:#181818;border:1px solid #363636;border-radius:5px"></div>
<span style="left:935.68px;top:785.02px;font-size:15.6px;line-height:15.6px;color:#d4d4d4;letter-spacing:0.358px;">Audio 7</span>
<div style="left:1025.50px;top:47.00px;width:121.50px;height:1.00px;background:#404040"></div>
<div class="pn" style="left:1025.50px;top:48px;width:121.50px;height:263px"></div>
<svg style="left:1132.20px;top:60.50px;" width="9" height="6" viewBox="0 0 9 6"><path d="M0.5 0.6 H8.3 L4.4 5.0 Z" fill="#7c7c7c"/></svg>
<svg style="left:1132.20px;top:81.80px;" width="9" height="6" viewBox="0 0 9 6"><path d="M0.5 0.6 H8.3 L4.4 5.0 Z" fill="#7c7c7c"/></svg>
<svg style="left:1132.20px;top:103.10px;" width="9" height="6" viewBox="0 0 9 6"><path d="M0.5 0.6 H8.3 L4.4 5.0 Z" fill="#7c7c7c"/></svg>
<div style="left:1027.40px;top:222.90px;width:116.30px;height:68.40px;background:linear-gradient(to bottom,#0d0d0d 0%,#2c2c2c 45%,#565656 100%);border-radius:5px 0 0 0"></div>
<div style="left:1027.40px;top:291.30px;width:116.30px;height:16.60px;background:#5a5a5a;border-radius:0 0 5px 5px;border-top:1px solid #6c6c6c"></div>
<svg style="left:1063.00px;top:221.00px;" width="40" height="40" viewBox="0 0 40 40"><line x1="5.40" y1="19.80" x2="3.60" y2="19.80" stroke="#ececec" stroke-width="1.5" stroke-linecap="round"/><line x1="9.68" y1="9.48" x2="8.40" y2="8.20" stroke="#ececec" stroke-width="1.5" stroke-linecap="round"/><line x1="20.00" y1="5.20" x2="20.00" y2="3.40" stroke="#ececec" stroke-width="1.5" stroke-linecap="round"/><line x1="30.32" y1="9.48" x2="31.60" y2="8.20" stroke="#ececec" stroke-width="1.5" stroke-linecap="round"/><line x1="34.60" y1="19.80" x2="36.40" y2="19.80" stroke="#ececec" stroke-width="1.5" stroke-linecap="round"/><line x1="9.82" y1="29.98" x2="7.55" y2="32.25" stroke="#ececec" stroke-width="1.8" stroke-linecap="round"/><line x1="30.18" y1="29.98" x2="32.45" y2="32.25" stroke="#ececec" stroke-width="1.8" stroke-linecap="round"/><defs><radialGradient id="kg" cx="50%" cy="42%" r="62%"><stop offset="0" stop-color="#ffffff"/><stop offset="0.72" stop-color="#eeeeee"/><stop offset="1" stop-color="#b8b8b8"/></radialGradient></defs><circle cx="20" cy="19.9" r="12.9" fill="url(#kg)"/><path d="M20 7.2 V18.8" stroke="#000" stroke-width="3"/></svg>
<svg style="left:1118.00px;top:220.00px;" width="28" height="28" viewBox="0 0 28 28"><circle cx="13.6" cy="14.2" r="11.8" fill="#2a2a2a" opacity="0.55"/><circle cx="13.5" cy="13.8" r="11.4" fill="#4c4c4c" stroke="#a8a8a8" stroke-width="1.7"/><text x="13.4" y="18.2" font-family="Liberation Serif, serif" font-style="italic" font-size="16" fill="#cfcfcf" text-anchor="middle">fx</text></svg>
<span style="left:1060.81px;top:262.02px;font-size:15.2px;line-height:15.2px;color:#f4f4f4;letter-spacing:0.224px;">0.0000</span>
<span style="left:1075.48px;top:276.02px;font-size:15.6px;line-height:15.6px;color:#f4f4f4;letter-spacing:-0.439px;">dB</span>
<div style="left:1027.4px;top:292px;width:116.6px;height:17px;overflow:hidden"><span style="left:-1.1px;top:1.9px;font-size:13.45px;line-height:16px;color:#ffffff;-webkit-text-stroke:0.35px #fff">Guadagno di output</span></div>
<svg style="left:1134.00px;top:294.00px;" width="10" height="6" viewBox="0 0 10 6"><path d="M0.3 0.4 H9 L4.6 5 Z" fill="#e4e4e4"/></svg>
<div class="dd" style="left:1021.70px;top:515.00px"></div>
<span style="left:1032.40px;top:522.02px;font-size:15.4px;line-height:15.4px;color:#cdcdcd;letter-spacing:0.066px;">Leggi</span>
<svg style="left:1124.60px;top:525.60px;" width="12" height="7" viewBox="0 0 12 7"><path d="M0.8 0.8 L5.7 5.0 L10.6 0.8" stroke="#d0d0d0" stroke-width="1.4" fill="none" stroke-linecap="round" stroke-linejoin="miter"/></svg>
<div style="left:1061.40px;top:600.20px;width:4.00px;height:131.40px;background:#060606"></div>
<div class="tk" style="left:1055.10px;top:607px;width:5.9px"></div>
<div class="tk" style="left:1065.90px;top:607px;width:4.6px"></div>
<div class="tk" style="left:1055.10px;top:674px;width:5.9px"></div>
<div class="tk" style="left:1065.90px;top:674px;width:4.6px"></div>
<div class="tk" style="left:1055.10px;top:696px;width:5.9px"></div>
<div class="tk" style="left:1065.90px;top:696px;width:4.6px"></div>
<div class="tk" style="left:1055.10px;top:714px;width:5.9px"></div>
<div class="tk" style="left:1065.90px;top:714px;width:4.6px"></div>
<div class="tk" style="left:1055.10px;top:724px;width:5.9px"></div>
<div class="tk" style="left:1065.90px;top:724px;width:4.6px"></div>
<div class="dt" style="left:1059.90px;top:658.25px"></div>
<div class="dt" style="left:1059.90px;top:662.25px"></div>
<div class="dt" style="left:1059.90px;top:665.65px"></div>
<div class="dt" style="left:1059.90px;top:668.85px"></div>
<div class="dt" style="left:1059.90px;top:682.55px"></div>
<div class="dt" style="left:1059.90px;top:689.45px"></div>
<div class="dt" style="left:1059.90px;top:700.25px"></div>
<div class="dt" style="left:1059.90px;top:705.65px"></div>
<div class="dt" style="left:1059.90px;top:708.85px"></div>
<span style="left:1036.86px;top:588.02px;font-size:11.4px;line-height:11.4px;color:#a0a0a0;">dB</span>
<span style="left:1044.46px;top:604.02px;font-size:11.4px;line-height:11.4px;color:#a0a0a0;">0</span>
<span style="left:1040.66px;top:631.02px;font-size:11.4px;line-height:11.4px;color:#a0a0a0;">-4</span>
<span style="left:1040.66px;top:647.02px;font-size:11.4px;line-height:11.4px;color:#a0a0a0;">-7</span>
<span style="left:1034.33px;top:671.02px;font-size:11.4px;line-height:11.4px;color:#a0a0a0;">-13</span>
<span style="left:1034.33px;top:692.02px;font-size:11.4px;line-height:11.4px;color:#a0a0a0;">-22</span>
<span style="left:1037.42px;top:720.02px;font-size:12.4px;line-height:12.4px;color:#a0a0a0;letter-spacing:0.416px;">-∞</span>
<div style="left:1053.30px;top:609.90px;width:20.00px;height:44.40px;background:#212121;border:3px solid #939393;border-radius:5px;box-shadow:inset 0 0 0 0.6px #a8a8a8"></div>
<div style="left:1060.00px;top:630.80px;width:7.00px;height:2.60px;background:#9c9c9c;border-radius:1.3px"></div>
<div style="left:1082.00px;top:584.50px;width:36.80px;height:157.30px;background:#000"></div>
<div class="cr" style="left:1083.20px;top:586.10px;width:16.60px;height:10.80px"></div>
<div class="cr" style="left:1101.20px;top:586.10px;width:16.60px;height:10.80px"></div>
<div style="left:1099.90px;top:604.60px;width:1.20px;height:135.60px;background:#151515"></div>
<div class="cd" style="left:1083.20px;top:599.60px;width:16.60px;height:140.60px"></div>
<div class="g" style="left:1083.20px;top:604.60px;width:16.60px;height:135.60px;background-size:100% 140.60px;background-position:0 -5.00px"></div>
<div style="left:1083.20px;top:604.00px;width:16.60px;height:1.40px;background:#f2ea45"></div>
<div class="cd" style="left:1101.20px;top:599.60px;width:16.60px;height:140.60px"></div>
<div class="g" style="left:1101.20px;top:604.60px;width:16.60px;height:135.60px;background-size:100% 140.60px;background-position:0 -5.00px"></div>
<div style="left:1101.20px;top:604.00px;width:16.60px;height:1.40px;background:#f2ea45"></div>
<div class="tk" style="left:1118.80px;top:600px;width:5.8px"></div>
<div class="tk" style="left:1118.80px;top:683px;width:5.8px"></div>
<div class="tk" style="left:1118.80px;top:627px;width:3.2px"></div>
<div class="tk" style="left:1118.80px;top:656px;width:3.2px"></div>
<div class="tk" style="left:1118.80px;top:710px;width:3.2px"></div>
<div class="tk" style="left:1118.80px;top:738px;width:3.2px"></div>
<span style="left:1130.00px;top:595.02px;font-size:13.5px;line-height:13.5px;color:#a0a0a0;">0</span>
<span style="left:1130.20px;top:678.02px;font-size:13.5px;line-height:13.5px;color:#a0a0a0;letter-spacing:-0.239px;">-36</span>
<span style="left:1130.60px;top:727.02px;font-size:14.2px;line-height:14.2px;color:#a0a0a0;letter-spacing:-0.780px;">dB</span>
<span style="left:1032.30px;top:754.02px;font-size:15.5px;line-height:15.5px;color:#4b9df0;">-3.6</span>
<span style="left:1078.30px;top:754.02px;font-size:15.5px;line-height:15.5px;color:#b4b4b4;">-2.1</span>
<div style="left:1021.40px;top:778.40px;width:122.40px;height:26.60px;background:#181818;border:1px solid #363636;border-radius:5px"></div>
<span style="left:1047.45px;top:785.02px;font-size:15.6px;line-height:15.6px;color:#d4d4d4;letter-spacing:0.292px;">Principale</span>
<span style="left:31.50px;top:836.02px;font-size:15.6px;line-height:15.6px;color:#4b9df0;letter-spacing:0.157px;">00:00:57:26057</span>
<span style="left:1251.00px;top:836.02px;font-size:15.6px;line-height:15.6px;color:#a6a6a6;letter-spacing:0.171px;">00:08:09:37404</span>
<svg style="left:600px;top:826px" width="220" height="28" viewBox="600 826 220 28"><path d="M612.7 832.2 V838.2 Q612.7 840.2 609.6 841.1 Q612.7 842.0 612.7 844.0 V850.1" stroke="#bababa" stroke-width="2.7" fill="none" stroke-linecap="butt" stroke-linejoin="round"/><path d="M616.1 841.1 L623 835 V838.9 H629.1 V843.3 H623 V847.2 Z" fill="#bababa"/><path d="M658.3 841.1 L651.4 835 V838.9 H645.1 V843.3 H651.4 V847.2 Z" fill="#bababa"/><path d="M661.5 832.2 V838.2 Q661.5 840.2 664.7 841.1 Q661.5 842.0 661.5 844.0 V850.1" stroke="#bababa" stroke-width="2.7" fill="none" stroke-linecap="butt" stroke-linejoin="round"/><rect x="685.2" y="834.7" width="13.5" height="12.9" rx="0.8" fill="#bababa"/><path d="M720.5 832.2 V838.2 Q720.5 840.2 717.4 841.1 Q720.5 842.0 720.5 844.0 V850.1" stroke="#bababa" stroke-width="2.7" fill="none" stroke-linecap="butt" stroke-linejoin="round"/><path d="M724.9 836 L735.1 841.1 L724.9 846.3 Z" fill="#bababa"/><path d="M738.6 832.2 V838.2 Q738.6 840.2 741.8 841.1 Q738.6 842.0 738.6 844.0 V850.1" stroke="#bababa" stroke-width="2.7" fill="none" stroke-linecap="butt" stroke-linejoin="round"/><path d="M762.3 837.2 H757.4 V847.6 H775.6 V840.6" stroke="#4a90e8" stroke-width="2.8" fill="none"/><path d="M764.8 832.9 L775.4 837.7 L764.8 842.4 Z" fill="#4a90e8"/><circle cx="803.7" cy="841.9" r="7.5" fill="#5e2b29"/></svg>
</body></html>
